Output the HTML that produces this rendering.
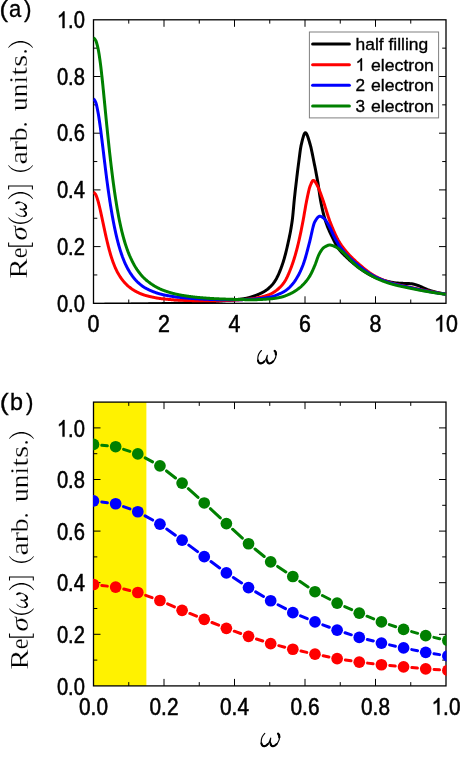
<!DOCTYPE html>
<html><head><meta charset="utf-8"><title>Optical conductivity</title>
<style>
html,body{margin:0;padding:0;background:#fff;}
body{width:460px;height:761px;overflow:hidden;font-family:"Liberation Sans",sans-serif;}
svg{display:block;will-change:transform;}
</style></head><body>
<svg width="460" height="761" viewBox="0 0 460 761">
<defs>
<clipPath id="ca"><rect x="92.85" y="19.150000000000002" width="353.8" height="284.8"/></clipPath>
<clipPath id="cb"><rect x="93.05" y="401.45000000000005" width="353.4" height="285.09999999999997"/></clipPath>
</defs>
<rect width="460" height="761" fill="#fff"/>
<path d="M164.00,303.3 v-7.0 M164.00,19.8 v7.0 M234.50,303.3 v-7.0 M234.50,19.8 v7.0 M305.00,303.3 v-7.0 M305.00,19.8 v7.0 M375.50,303.3 v-7.0 M375.50,19.8 v7.0 M128.75,303.3 v-3.8 M128.75,19.8 v3.8 M199.25,303.3 v-3.8 M199.25,19.8 v3.8 M269.75,303.3 v-3.8 M269.75,19.8 v3.8 M340.25,303.3 v-3.8 M340.25,19.8 v3.8 M410.75,303.3 v-3.8 M410.75,19.8 v3.8 M93.5,246.60 h7.0 M446.0,246.60 h-7.0 M93.5,189.90 h7.0 M446.0,189.90 h-7.0 M93.5,133.20 h7.0 M446.0,133.20 h-7.0 M93.5,76.50 h7.0 M446.0,76.50 h-7.0 M93.5,274.95 h3.8 M446.0,274.95 h-3.8 M93.5,218.25 h3.8 M446.0,218.25 h-3.8 M93.5,161.55 h3.8 M446.0,161.55 h-3.8 M93.5,104.85 h3.8 M446.0,104.85 h-3.8 M93.5,48.15 h3.8 M446.0,48.15 h-3.8" stroke="#000" stroke-width="1.0" fill="none"/>
<rect x="93.5" y="19.8" width="352.5" height="283.5" fill="none" stroke="#000" stroke-width="1.3"/>
<g clip-path="url(#ca)" fill="none" stroke-width="3" stroke-linejoin="round">
<path d="M93.50,304.43 L93.79,304.43 L94.09,304.43 L94.38,304.43 L94.68,304.43 L94.97,304.43 L95.26,304.43 L95.56,304.43 L95.85,304.42 L96.15,304.42 L96.44,304.42 L96.73,304.42 L97.03,304.42 L97.32,304.42 L97.62,304.42 L97.91,304.41 L98.20,304.41 L98.50,304.41 L98.79,304.41 L99.09,304.41 L99.38,304.41 L99.67,304.41 L99.97,304.40 L100.26,304.40 L100.56,304.40 L100.85,304.40 L101.14,304.40 L101.44,304.39 L101.73,304.39 L102.03,304.39 L102.32,304.39 L102.61,304.39 L102.91,304.39 L103.20,304.38 L103.50,304.38 L103.79,304.38 L104.08,304.38 L104.38,304.38 L104.67,304.37 L104.97,304.37 L105.26,304.37 L105.55,304.37 L105.85,304.37 L106.14,304.36 L106.44,304.36 L106.73,304.36 L107.02,304.36 L107.32,304.35 L107.61,304.35 L107.91,304.35 L108.20,304.35 L108.49,304.34 L108.79,304.34 L109.08,304.34 L109.38,304.34 L109.67,304.34 L109.96,304.33 L110.26,304.33 L110.55,304.33 L110.85,304.33 L111.14,304.32 L111.43,304.32 L111.73,304.32 L112.02,304.32 L112.32,304.31 L112.61,304.31 L112.90,304.31 L113.20,304.31 L113.49,304.30 L113.79,304.30 L114.08,304.30 L114.37,304.29 L114.67,304.29 L114.96,304.29 L115.26,304.29 L115.55,304.28 L115.84,304.28 L116.14,304.28 L116.43,304.28 L116.73,304.27 L117.02,304.27 L117.31,304.27 L117.61,304.26 L117.90,304.26 L118.20,304.26 L118.49,304.26 L118.78,304.25 L119.08,304.25 L119.37,304.25 L119.67,304.24 L119.96,304.24 L120.25,304.24 L120.55,304.24 L120.84,304.23 L121.14,304.23 L121.43,304.23 L121.72,304.22 L122.02,304.22 L122.31,304.22 L122.61,304.21 L122.90,304.21 L123.19,304.21 L123.49,304.21 L123.78,304.20 L124.08,304.20 L124.37,304.20 L124.66,304.19 L124.96,304.19 L125.25,304.19 L125.55,304.18 L125.84,304.18 L126.13,304.18 L126.43,304.18 L126.72,304.17 L127.02,304.17 L127.31,304.17 L127.60,304.16 L127.90,304.16 L128.19,304.16 L128.49,304.15 L128.78,304.15 L129.07,304.15 L129.37,304.14 L129.66,304.14 L129.96,304.14 L130.25,304.13 L130.54,304.13 L130.84,304.13 L131.13,304.12 L131.43,304.12 L131.72,304.12 L132.01,304.11 L132.31,304.11 L132.60,304.11 L132.90,304.10 L133.19,304.10 L133.48,304.10 L133.78,304.09 L134.07,304.09 L134.37,304.08 L134.66,304.08 L134.95,304.08 L135.25,304.07 L135.54,304.07 L135.84,304.07 L136.13,304.06 L136.42,304.06 L136.72,304.05 L137.01,304.05 L137.31,304.05 L137.60,304.04 L137.89,304.04 L138.19,304.03 L138.48,304.03 L138.78,304.02 L139.07,304.02 L139.36,304.02 L139.66,304.01 L139.95,304.01 L140.25,304.00 L140.54,304.00 L140.83,303.99 L141.13,303.99 L141.42,303.99 L141.72,303.98 L142.01,303.98 L142.30,303.97 L142.60,303.97 L142.89,303.96 L143.19,303.96 L143.48,303.95 L143.77,303.95 L144.07,303.94 L144.36,303.94 L144.66,303.93 L144.95,303.93 L145.24,303.93 L145.54,303.92 L145.83,303.92 L146.13,303.91 L146.42,303.91 L146.71,303.90 L147.01,303.90 L147.30,303.89 L147.60,303.89 L147.89,303.88 L148.18,303.88 L148.48,303.87 L148.77,303.87 L149.07,303.86 L149.36,303.86 L149.65,303.85 L149.95,303.85 L150.24,303.84 L150.54,303.84 L150.83,303.83 L151.12,303.83 L151.42,303.82 L151.71,303.82 L152.01,303.81 L152.30,303.80 L152.59,303.80 L152.89,303.79 L153.18,303.79 L153.47,303.78 L153.77,303.78 L154.06,303.77 L154.36,303.77 L154.65,303.76 L154.94,303.76 L155.24,303.75 L155.53,303.75 L155.83,303.74 L156.12,303.73 L156.41,303.73 L156.71,303.72 L157.00,303.72 L157.30,303.71 L157.59,303.71 L157.88,303.70 L158.18,303.70 L158.47,303.69 L158.77,303.68 L159.06,303.68 L159.35,303.67 L159.65,303.67 L159.94,303.66 L160.24,303.66 L160.53,303.65 L160.82,303.65 L161.12,303.64 L161.41,303.63 L161.71,303.63 L162.00,303.62 L162.29,303.62 L162.59,303.61 L162.88,303.61 L163.18,303.60 L163.47,303.59 L163.76,303.59 L164.06,303.58 L164.35,303.58 L164.65,303.57 L164.94,303.56 L165.23,303.56 L165.53,303.55 L165.82,303.55 L166.12,303.54 L166.41,303.54 L166.70,303.53 L167.00,303.52 L167.29,303.52 L167.59,303.51 L167.88,303.50 L168.17,303.50 L168.47,303.49 L168.76,303.49 L169.06,303.48 L169.35,303.47 L169.64,303.47 L169.94,303.46 L170.23,303.45 L170.53,303.45 L170.82,303.44 L171.11,303.43 L171.41,303.43 L171.70,303.42 L172.00,303.41 L172.29,303.41 L172.58,303.40 L172.88,303.39 L173.17,303.38 L173.47,303.38 L173.76,303.37 L174.05,303.36 L174.35,303.36 L174.64,303.35 L174.94,303.34 L175.23,303.33 L175.52,303.33 L175.82,303.32 L176.11,303.31 L176.41,303.30 L176.70,303.30 L176.99,303.29 L177.29,303.28 L177.58,303.27 L177.88,303.26 L178.17,303.26 L178.46,303.25 L178.76,303.24 L179.05,303.23 L179.35,303.22 L179.64,303.22 L179.93,303.21 L180.23,303.20 L180.52,303.19 L180.82,303.18 L181.11,303.17 L181.40,303.16 L181.70,303.16 L181.99,303.15 L182.29,303.14 L182.58,303.13 L182.87,303.12 L183.17,303.11 L183.46,303.10 L183.76,303.09 L184.05,303.08 L184.34,303.07 L184.64,303.06 L184.93,303.05 L185.23,303.04 L185.52,303.03 L185.81,303.02 L186.11,303.01 L186.40,303.00 L186.70,302.99 L186.99,302.98 L187.28,302.97 L187.58,302.96 L187.87,302.95 L188.17,302.94 L188.46,302.93 L188.75,302.92 L189.05,302.90 L189.34,302.89 L189.64,302.88 L189.93,302.87 L190.22,302.86 L190.52,302.85 L190.81,302.83 L191.11,302.82 L191.40,302.81 L191.69,302.80 L191.99,302.78 L192.28,302.77 L192.58,302.76 L192.87,302.75 L193.16,302.73 L193.46,302.72 L193.75,302.71 L194.05,302.70 L194.34,302.68 L194.63,302.67 L194.93,302.66 L195.22,302.64 L195.52,302.63 L195.81,302.62 L196.10,302.60 L196.40,302.59 L196.69,302.57 L196.99,302.56 L197.28,302.55 L197.57,302.53 L197.87,302.52 L198.16,302.50 L198.46,302.49 L198.75,302.47 L199.04,302.46 L199.34,302.45 L199.63,302.43 L199.93,302.42 L200.22,302.40 L200.51,302.39 L200.81,302.37 L201.10,302.35 L201.40,302.34 L201.69,302.32 L201.98,302.31 L202.28,302.29 L202.57,302.27 L202.87,302.26 L203.16,302.24 L203.45,302.22 L203.75,302.21 L204.04,302.19 L204.34,302.17 L204.63,302.15 L204.92,302.14 L205.22,302.12 L205.51,302.10 L205.81,302.08 L206.10,302.06 L206.39,302.05 L206.69,302.03 L206.98,302.01 L207.28,301.99 L207.57,301.97 L207.86,301.95 L208.16,301.93 L208.45,301.91 L208.75,301.89 L209.04,301.87 L209.33,301.85 L209.63,301.84 L209.92,301.82 L210.22,301.80 L210.51,301.77 L210.80,301.75 L211.10,301.73 L211.39,301.71 L211.69,301.69 L211.98,301.67 L212.27,301.65 L212.57,301.63 L212.86,301.61 L213.16,301.59 L213.45,301.57 L213.74,301.55 L214.04,301.53 L214.33,301.50 L214.63,301.48 L214.92,301.46 L215.21,301.44 L215.51,301.42 L215.80,301.40 L216.10,301.37 L216.39,301.35 L216.68,301.33 L216.98,301.31 L217.27,301.29 L217.57,301.26 L217.86,301.24 L218.15,301.22 L218.45,301.20 L218.74,301.17 L219.04,301.15 L219.33,301.13 L219.62,301.10 L219.92,301.08 L220.21,301.06 L220.51,301.03 L220.80,301.01 L221.09,300.99 L221.39,300.96 L221.68,300.94 L221.98,300.91 L222.27,300.89 L222.56,300.86 L222.86,300.84 L223.15,300.82 L223.45,300.79 L223.74,300.77 L224.03,300.74 L224.33,300.71 L224.62,300.69 L224.92,300.66 L225.21,300.64 L225.50,300.61 L225.80,300.59 L226.09,300.56 L226.39,300.53 L226.68,300.51 L226.97,300.48 L227.27,300.45 L227.56,300.43 L227.86,300.40 L228.15,300.37 L228.44,300.35 L228.74,300.32 L229.03,300.29 L229.33,300.26 L229.62,300.24 L229.91,300.21 L230.21,300.18 L230.50,300.15 L230.80,300.12 L231.09,300.10 L231.38,300.07 L231.68,300.04 L231.97,300.01 L232.27,299.98 L232.56,299.95 L232.85,299.92 L233.15,299.89 L233.44,299.86 L233.74,299.83 L234.03,299.80 L234.32,299.77 L234.62,299.74 L234.91,299.71 L235.21,299.68 L235.50,299.66 L235.79,299.63 L236.09,299.60 L236.38,299.57 L236.68,299.54 L236.97,299.51 L237.26,299.48 L237.56,299.45 L237.85,299.42 L238.15,299.39 L238.44,299.36 L238.73,299.33 L239.03,299.30 L239.32,299.27 L239.62,299.23 L239.91,299.20 L240.20,299.17 L240.50,299.14 L240.79,299.10 L241.09,299.07 L241.38,299.03 L241.67,299.00 L241.97,298.96 L242.26,298.92 L242.56,298.88 L242.85,298.84 L243.14,298.80 L243.44,298.76 L243.73,298.72 L244.03,298.68 L244.32,298.63 L244.61,298.58 L244.91,298.53 L245.20,298.48 L245.50,298.43 L245.79,298.37 L246.08,298.31 L246.38,298.25 L246.67,298.18 L246.97,298.12 L247.26,298.05 L247.55,297.98 L247.85,297.90 L248.14,297.83 L248.44,297.75 L248.73,297.67 L249.02,297.59 L249.32,297.51 L249.61,297.43 L249.91,297.34 L250.20,297.25 L250.49,297.16 L250.79,297.07 L251.08,296.98 L251.38,296.89 L251.67,296.80 L251.96,296.70 L252.26,296.61 L252.55,296.51 L252.85,296.41 L253.14,296.32 L253.43,296.22 L253.73,296.12 L254.02,296.03 L254.32,295.93 L254.61,295.83 L254.90,295.73 L255.20,295.62 L255.49,295.52 L255.79,295.41 L256.08,295.30 L256.37,295.19 L256.67,295.08 L256.96,294.97 L257.26,294.86 L257.55,294.74 L257.84,294.62 L258.14,294.50 L258.43,294.38 L258.73,294.25 L259.02,294.13 L259.31,294.00 L259.61,293.87 L259.90,293.74 L260.20,293.60 L260.49,293.46 L260.78,293.32 L261.08,293.18 L261.37,293.04 L261.67,292.89 L261.96,292.74 L262.25,292.59 L262.55,292.43 L262.84,292.27 L263.14,292.11 L263.43,291.95 L263.72,291.78 L264.02,291.61 L264.31,291.44 L264.61,291.26 L264.90,291.07 L265.19,290.89 L265.49,290.69 L265.78,290.50 L266.08,290.29 L266.37,290.09 L266.66,289.87 L266.96,289.66 L267.25,289.43 L267.55,289.21 L267.84,288.97 L268.13,288.73 L268.43,288.49 L268.72,288.24 L269.02,287.98 L269.31,287.72 L269.60,287.45 L269.90,287.17 L270.19,286.89 L270.48,286.60 L270.78,286.30 L271.07,285.99 L271.37,285.68 L271.66,285.36 L271.95,285.03 L272.25,284.70 L272.54,284.35 L272.84,284.00 L273.13,283.64 L273.42,283.26 L273.72,282.88 L274.01,282.48 L274.31,282.06 L274.60,281.63 L274.89,281.19 L275.19,280.72 L275.48,280.25 L275.78,279.75 L276.07,279.25 L276.36,278.72 L276.66,278.18 L276.95,277.62 L277.25,277.05 L277.54,276.46 L277.83,275.85 L278.13,275.23 L278.42,274.59 L278.72,273.94 L279.01,273.27 L279.30,272.58 L279.60,271.88 L279.89,271.16 L280.19,270.42 L280.48,269.67 L280.77,268.91 L281.07,268.13 L281.36,267.33 L281.66,266.52 L281.95,265.70 L282.24,264.86 L282.54,264.00 L282.83,263.11 L283.13,262.20 L283.42,261.26 L283.71,260.30 L284.01,259.32 L284.30,258.30 L284.60,257.26 L284.89,256.20 L285.18,255.11 L285.48,253.99 L285.77,252.85 L286.07,251.68 L286.36,250.49 L286.65,249.27 L286.95,248.02 L287.24,246.75 L287.54,245.46 L287.83,244.14 L288.12,242.79 L288.42,241.45 L288.71,240.09 L289.01,238.72 L289.30,237.33 L289.59,235.91 L289.89,234.46 L290.18,232.97 L290.48,231.42 L290.77,229.81 L291.06,228.13 L291.36,226.37 L291.65,224.51 L291.95,222.55 L292.24,220.46 L292.53,218.14 L292.83,215.41 L293.12,212.36 L293.42,209.10 L293.71,205.79 L294.00,202.58 L294.30,199.63 L294.59,196.85 L294.89,194.13 L295.18,191.46 L295.47,188.85 L295.77,186.31 L296.06,183.82 L296.36,181.37 L296.65,178.90 L296.94,176.43 L297.24,173.97 L297.53,171.54 L297.83,169.16 L298.12,166.83 L298.41,164.58 L298.71,162.37 L299.00,160.09 L299.30,157.78 L299.59,155.48 L299.88,153.23 L300.18,151.07 L300.47,149.06 L300.77,147.22 L301.06,145.63 L301.35,144.31 L301.65,143.09 L301.94,141.87 L302.24,140.67 L302.53,139.49 L302.82,138.36 L303.12,137.29 L303.41,136.30 L303.71,135.40 L304.00,134.60 L304.29,133.92 L304.59,133.39 L304.88,133.00 L305.18,132.79 L305.47,132.76 L305.76,132.91 L306.06,133.18 L306.35,133.56 L306.65,134.04 L306.94,134.61 L307.23,135.26 L307.53,135.99 L307.82,136.78 L308.12,137.63 L308.41,138.53 L308.70,139.46 L309.00,140.44 L309.29,141.44 L309.59,142.45 L309.88,143.48 L310.17,144.51 L310.47,145.59 L310.76,146.74 L311.06,147.97 L311.35,149.26 L311.64,150.60 L311.94,151.98 L312.23,153.41 L312.53,154.86 L312.82,156.32 L313.11,157.80 L313.41,159.28 L313.70,160.76 L314.00,162.23 L314.29,163.68 L314.58,165.12 L314.88,166.57 L315.17,168.05 L315.47,169.54 L315.76,171.06 L316.05,172.60 L316.35,174.16 L316.64,175.75 L316.94,177.36 L317.23,179.00 L317.52,180.67 L317.82,182.36 L318.11,184.08 L318.41,185.94 L318.70,187.94 L318.99,190.03 L319.29,192.14 L319.58,194.23 L319.88,196.24 L320.17,198.13 L320.46,199.85 L320.76,201.44 L321.05,202.98 L321.35,204.47 L321.64,205.91 L321.93,207.31 L322.23,208.66 L322.52,209.97 L322.82,211.23 L323.11,212.44 L323.40,213.62 L323.70,214.74 L323.99,215.83 L324.29,216.87 L324.58,217.89 L324.87,218.88 L325.17,219.85 L325.46,220.79 L325.76,221.70 L326.05,222.59 L326.34,223.45 L326.64,224.29 L326.93,225.10 L327.23,225.89 L327.52,226.65 L327.81,227.40 L328.11,228.12 L328.40,228.83 L328.70,229.52 L328.99,230.20 L329.28,230.87 L329.58,231.53 L329.87,232.17 L330.17,232.80 L330.46,233.43 L330.75,234.05 L331.05,234.66 L331.34,235.27 L331.64,235.87 L331.93,236.47 L332.22,237.07 L332.52,237.66 L332.81,238.25 L333.11,238.85 L333.40,239.45 L333.69,240.05 L333.99,240.64 L334.28,241.24 L334.58,241.82 L334.87,242.40 L335.16,242.98 L335.46,243.54 L335.75,244.10 L336.05,244.64 L336.34,245.17 L336.63,245.69 L336.93,246.19 L337.22,246.68 L337.52,247.15 L337.81,247.61 L338.10,248.04 L338.40,248.46 L338.69,248.86 L338.99,249.25 L339.28,249.63 L339.57,250.00 L339.87,250.36 L340.16,250.72 L340.46,251.06 L340.75,251.40 L341.04,251.73 L341.34,252.06 L341.63,252.38 L341.93,252.69 L342.22,253.00 L342.51,253.31 L342.81,253.61 L343.10,253.90 L343.40,254.20 L343.69,254.49 L343.98,254.77 L344.28,255.06 L344.57,255.34 L344.87,255.63 L345.16,255.91 L345.45,256.19 L345.75,256.46 L346.04,256.74 L346.34,257.02 L346.63,257.30 L346.92,257.58 L347.22,257.86 L347.51,258.14 L347.81,258.42 L348.10,258.70 L348.39,258.98 L348.69,259.26 L348.98,259.53 L349.28,259.80 L349.57,260.08 L349.86,260.35 L350.16,260.62 L350.45,260.88 L350.75,261.15 L351.04,261.42 L351.33,261.68 L351.63,261.94 L351.92,262.20 L352.22,262.46 L352.51,262.71 L352.80,262.96 L353.10,263.22 L353.39,263.47 L353.69,263.71 L353.98,263.96 L354.27,264.20 L354.57,264.45 L354.86,264.68 L355.16,264.92 L355.45,265.16 L355.74,265.39 L356.04,265.62 L356.33,265.85 L356.63,266.08 L356.92,266.30 L357.21,266.52 L357.51,266.74 L357.80,266.96 L358.10,267.17 L358.39,267.39 L358.68,267.60 L358.98,267.81 L359.27,268.03 L359.57,268.24 L359.86,268.45 L360.15,268.66 L360.45,268.87 L360.74,269.08 L361.04,269.28 L361.33,269.49 L361.62,269.69 L361.92,269.90 L362.21,270.10 L362.51,270.30 L362.80,270.50 L363.09,270.70 L363.39,270.90 L363.68,271.09 L363.98,271.29 L364.27,271.48 L364.56,271.67 L364.86,271.86 L365.15,272.05 L365.45,272.24 L365.74,272.42 L366.03,272.61 L366.33,272.79 L366.62,272.97 L366.92,273.15 L367.21,273.32 L367.50,273.50 L367.80,273.67 L368.09,273.84 L368.39,274.01 L368.68,274.18 L368.97,274.35 L369.27,274.51 L369.56,274.67 L369.86,274.83 L370.15,274.99 L370.44,275.15 L370.74,275.30 L371.03,275.45 L371.33,275.60 L371.62,275.75 L371.91,275.90 L372.21,276.04 L372.50,276.18 L372.80,276.32 L373.09,276.46 L373.38,276.59 L373.68,276.73 L373.97,276.86 L374.27,276.99 L374.56,277.11 L374.85,277.24 L375.15,277.36 L375.44,277.48 L375.74,277.60 L376.03,277.71 L376.32,277.83 L376.62,277.94 L376.91,278.05 L377.21,278.17 L377.50,278.28 L377.79,278.39 L378.09,278.50 L378.38,278.60 L378.68,278.71 L378.97,278.81 L379.26,278.92 L379.56,279.02 L379.85,279.12 L380.15,279.22 L380.44,279.32 L380.73,279.42 L381.03,279.52 L381.32,279.61 L381.62,279.71 L381.91,279.80 L382.20,279.89 L382.50,279.98 L382.79,280.07 L383.09,280.16 L383.38,280.25 L383.67,280.33 L383.97,280.42 L384.26,280.50 L384.56,280.59 L384.85,280.67 L385.14,280.75 L385.44,280.83 L385.73,280.90 L386.03,280.98 L386.32,281.05 L386.61,281.13 L386.91,281.20 L387.20,281.27 L387.49,281.34 L387.79,281.41 L388.08,281.48 L388.38,281.55 L388.67,281.61 L388.96,281.68 L389.26,281.74 L389.55,281.80 L389.85,281.86 L390.14,281.92 L390.43,281.98 L390.73,282.05 L391.02,282.11 L391.32,282.17 L391.61,282.23 L391.90,282.29 L392.20,282.35 L392.49,282.40 L392.79,282.46 L393.08,282.52 L393.37,282.57 L393.67,282.62 L393.96,282.67 L394.26,282.72 L394.55,282.76 L394.84,282.80 L395.14,282.84 L395.43,282.88 L395.73,282.92 L396.02,282.95 L396.31,282.97 L396.61,283.00 L396.90,283.02 L397.20,283.04 L397.49,283.06 L397.78,283.08 L398.08,283.10 L398.37,283.12 L398.67,283.14 L398.96,283.15 L399.25,283.17 L399.55,283.19 L399.84,283.20 L400.14,283.22 L400.43,283.24 L400.72,283.25 L401.02,283.27 L401.31,283.28 L401.61,283.29 L401.90,283.31 L402.19,283.32 L402.49,283.34 L402.78,283.35 L403.08,283.37 L403.37,283.38 L403.66,283.40 L403.96,283.41 L404.25,283.42 L404.55,283.44 L404.84,283.45 L405.13,283.46 L405.43,283.47 L405.72,283.48 L406.02,283.49 L406.31,283.50 L406.60,283.51 L406.90,283.52 L407.19,283.53 L407.49,283.54 L407.78,283.55 L408.07,283.56 L408.37,283.57 L408.66,283.58 L408.96,283.59 L409.25,283.61 L409.54,283.62 L409.84,283.63 L410.13,283.65 L410.43,283.66 L410.72,283.68 L411.01,283.70 L411.31,283.73 L411.60,283.76 L411.90,283.80 L412.19,283.85 L412.48,283.90 L412.78,283.96 L413.07,284.03 L413.37,284.09 L413.66,284.17 L413.95,284.24 L414.25,284.32 L414.54,284.41 L414.84,284.49 L415.13,284.58 L415.42,284.67 L415.72,284.76 L416.01,284.86 L416.31,284.95 L416.60,285.05 L416.89,285.14 L417.19,285.24 L417.48,285.34 L417.78,285.43 L418.07,285.53 L418.36,285.63 L418.66,285.74 L418.95,285.85 L419.25,285.97 L419.54,286.09 L419.83,286.21 L420.13,286.33 L420.42,286.46 L420.72,286.59 L421.01,286.72 L421.30,286.85 L421.60,286.98 L421.89,287.12 L422.19,287.25 L422.48,287.38 L422.77,287.52 L423.07,287.65 L423.36,287.78 L423.66,287.91 L423.95,288.04 L424.24,288.16 L424.54,288.29 L424.83,288.41 L425.13,288.53 L425.42,288.65 L425.71,288.78 L426.01,288.91 L426.30,289.04 L426.60,289.16 L426.89,289.29 L427.18,289.42 L427.48,289.54 L427.77,289.67 L428.07,289.79 L428.36,289.91 L428.65,290.02 L428.95,290.13 L429.24,290.24 L429.54,290.35 L429.83,290.44 L430.12,290.54 L430.42,290.63 L430.71,290.72 L431.01,290.81 L431.30,290.89 L431.59,290.98 L431.89,291.07 L432.18,291.15 L432.48,291.24 L432.77,291.32 L433.06,291.40 L433.36,291.49 L433.65,291.57 L433.95,291.65 L434.24,291.73 L434.53,291.80 L434.83,291.88 L435.12,291.96 L435.42,292.03 L435.71,292.11 L436.00,292.18 L436.30,292.26 L436.59,292.33 L436.89,292.40 L437.18,292.47 L437.47,292.54 L437.77,292.60 L438.06,292.67 L438.36,292.74 L438.65,292.80 L438.94,292.87 L439.24,292.93 L439.53,292.99 L439.83,293.05 L440.12,293.11 L440.41,293.17 L440.71,293.23 L441.00,293.29 L441.30,293.34 L441.59,293.40 L441.88,293.45 L442.18,293.50 L442.47,293.55 L442.77,293.60 L443.06,293.65 L443.35,293.70 L443.65,293.75 L443.94,293.79 L444.24,293.84 L444.53,293.88 L444.82,293.93 L445.12,293.97 L445.41,294.01 L445.71,294.05 L446.00,294.09" stroke="#000000"/>
<path d="M93.50,192.45 L93.79,192.52 L94.09,192.68 L94.38,192.92 L94.68,193.23 L94.97,193.59 L95.26,193.99 L95.56,194.42 L95.85,194.87 L96.15,195.45 L96.44,196.16 L96.73,196.96 L97.03,197.84 L97.32,198.77 L97.62,199.73 L97.91,200.69 L98.20,201.67 L98.50,202.74 L98.79,203.87 L99.09,205.05 L99.38,206.27 L99.67,207.51 L99.97,208.75 L100.26,210.00 L100.56,211.29 L100.85,212.61 L101.14,213.96 L101.44,215.33 L101.73,216.71 L102.03,218.09 L102.32,219.46 L102.61,220.83 L102.91,222.22 L103.20,223.62 L103.50,225.02 L103.79,226.41 L104.08,227.80 L104.38,229.18 L104.67,230.53 L104.97,231.89 L105.26,233.24 L105.55,234.57 L105.85,235.90 L106.14,237.21 L106.44,238.50 L106.73,239.77 L107.02,241.02 L107.32,242.25 L107.61,243.47 L107.91,244.67 L108.20,245.85 L108.49,247.01 L108.79,248.14 L109.08,249.25 L109.38,250.33 L109.67,251.40 L109.96,252.44 L110.26,253.47 L110.55,254.47 L110.85,255.45 L111.14,256.40 L111.43,257.34 L111.73,258.25 L112.02,259.14 L112.32,260.02 L112.61,260.87 L112.90,261.70 L113.20,262.52 L113.49,263.31 L113.79,264.08 L114.08,264.83 L114.37,265.57 L114.67,266.29 L114.96,266.98 L115.26,267.67 L115.55,268.33 L115.84,268.97 L116.14,269.60 L116.43,270.21 L116.73,270.81 L117.02,271.39 L117.31,271.96 L117.61,272.51 L117.90,273.05 L118.20,273.58 L118.49,274.09 L118.78,274.59 L119.08,275.08 L119.37,275.56 L119.67,276.03 L119.96,276.49 L120.25,276.94 L120.55,277.37 L120.84,277.80 L121.14,278.22 L121.43,278.63 L121.72,279.03 L122.02,279.43 L122.31,279.81 L122.61,280.19 L122.90,280.56 L123.19,280.92 L123.49,281.28 L123.78,281.63 L124.08,281.97 L124.37,282.31 L124.66,282.63 L124.96,282.96 L125.25,283.27 L125.55,283.58 L125.84,283.89 L126.13,284.18 L126.43,284.48 L126.72,284.76 L127.02,285.05 L127.31,285.32 L127.60,285.60 L127.90,285.87 L128.19,286.13 L128.49,286.38 L128.78,286.63 L129.07,286.86 L129.37,287.10 L129.66,287.33 L129.96,287.55 L130.25,287.78 L130.54,288.00 L130.84,288.22 L131.13,288.43 L131.43,288.64 L131.72,288.85 L132.01,289.06 L132.31,289.26 L132.60,289.46 L132.90,289.65 L133.19,289.84 L133.48,290.03 L133.78,290.22 L134.07,290.40 L134.37,290.58 L134.66,290.75 L134.95,290.92 L135.25,291.09 L135.54,291.26 L135.84,291.42 L136.13,291.58 L136.42,291.74 L136.72,291.89 L137.01,292.04 L137.31,292.18 L137.60,292.33 L137.89,292.47 L138.19,292.61 L138.48,292.74 L138.78,292.88 L139.07,293.01 L139.36,293.15 L139.66,293.28 L139.95,293.40 L140.25,293.53 L140.54,293.65 L140.83,293.78 L141.13,293.90 L141.42,294.01 L141.72,294.13 L142.01,294.24 L142.30,294.36 L142.60,294.46 L142.89,294.57 L143.19,294.68 L143.48,294.78 L143.77,294.88 L144.07,294.98 L144.36,295.07 L144.66,295.17 L144.95,295.26 L145.24,295.34 L145.54,295.43 L145.83,295.51 L146.13,295.60 L146.42,295.67 L146.71,295.75 L147.01,295.83 L147.30,295.90 L147.60,295.98 L147.89,296.05 L148.18,296.13 L148.48,296.20 L148.77,296.27 L149.07,296.35 L149.36,296.42 L149.65,296.49 L149.95,296.56 L150.24,296.63 L150.54,296.70 L150.83,296.76 L151.12,296.83 L151.42,296.90 L151.71,296.96 L152.01,297.03 L152.30,297.09 L152.59,297.16 L152.89,297.22 L153.18,297.28 L153.47,297.34 L153.77,297.40 L154.06,297.46 L154.36,297.52 L154.65,297.58 L154.94,297.63 L155.24,297.69 L155.53,297.74 L155.83,297.80 L156.12,297.85 L156.41,297.91 L156.71,297.96 L157.00,298.01 L157.30,298.06 L157.59,298.11 L157.88,298.16 L158.18,298.20 L158.47,298.25 L158.77,298.30 L159.06,298.34 L159.35,298.39 L159.65,298.43 L159.94,298.47 L160.24,298.52 L160.53,298.56 L160.82,298.60 L161.12,298.64 L161.41,298.67 L161.71,298.71 L162.00,298.75 L162.29,298.78 L162.59,298.82 L162.88,298.85 L163.18,298.89 L163.47,298.92 L163.76,298.95 L164.06,298.98 L164.35,299.01 L164.65,299.04 L164.94,299.07 L165.23,299.10 L165.53,299.13 L165.82,299.16 L166.12,299.19 L166.41,299.22 L166.70,299.25 L167.00,299.27 L167.29,299.30 L167.59,299.33 L167.88,299.36 L168.17,299.39 L168.47,299.41 L168.76,299.44 L169.06,299.47 L169.35,299.49 L169.64,299.52 L169.94,299.55 L170.23,299.57 L170.53,299.60 L170.82,299.62 L171.11,299.65 L171.41,299.67 L171.70,299.70 L172.00,299.72 L172.29,299.74 L172.58,299.77 L172.88,299.79 L173.17,299.81 L173.47,299.83 L173.76,299.86 L174.05,299.88 L174.35,299.90 L174.64,299.92 L174.94,299.94 L175.23,299.96 L175.52,299.98 L175.82,300.00 L176.11,300.02 L176.41,300.04 L176.70,300.05 L176.99,300.07 L177.29,300.09 L177.58,300.11 L177.88,300.12 L178.17,300.14 L178.46,300.15 L178.76,300.17 L179.05,300.18 L179.35,300.20 L179.64,300.21 L179.93,300.22 L180.23,300.24 L180.52,300.25 L180.82,300.26 L181.11,300.27 L181.40,300.29 L181.70,300.30 L181.99,300.31 L182.29,300.32 L182.58,300.33 L182.87,300.34 L183.17,300.35 L183.46,300.36 L183.76,300.37 L184.05,300.38 L184.34,300.39 L184.64,300.40 L184.93,300.41 L185.23,300.42 L185.52,300.43 L185.81,300.44 L186.11,300.45 L186.40,300.46 L186.70,300.47 L186.99,300.48 L187.28,300.49 L187.58,300.50 L187.87,300.51 L188.17,300.52 L188.46,300.53 L188.75,300.54 L189.05,300.55 L189.34,300.56 L189.64,300.57 L189.93,300.57 L190.22,300.58 L190.52,300.59 L190.81,300.60 L191.11,300.61 L191.40,300.62 L191.69,300.62 L191.99,300.63 L192.28,300.64 L192.58,300.65 L192.87,300.65 L193.16,300.66 L193.46,300.67 L193.75,300.67 L194.05,300.68 L194.34,300.69 L194.63,300.69 L194.93,300.70 L195.22,300.70 L195.52,300.71 L195.81,300.71 L196.10,300.72 L196.40,300.72 L196.69,300.73 L196.99,300.73 L197.28,300.74 L197.57,300.74 L197.87,300.74 L198.16,300.75 L198.46,300.75 L198.75,300.75 L199.04,300.75 L199.34,300.76 L199.63,300.76 L199.93,300.76 L200.22,300.76 L200.51,300.76 L200.81,300.77 L201.10,300.77 L201.40,300.77 L201.69,300.77 L201.98,300.77 L202.28,300.77 L202.57,300.77 L202.87,300.77 L203.16,300.77 L203.45,300.78 L203.75,300.78 L204.04,300.78 L204.34,300.78 L204.63,300.78 L204.92,300.78 L205.22,300.78 L205.51,300.78 L205.81,300.78 L206.10,300.78 L206.39,300.78 L206.69,300.78 L206.98,300.78 L207.28,300.78 L207.57,300.78 L207.86,300.77 L208.16,300.77 L208.45,300.77 L208.75,300.77 L209.04,300.77 L209.33,300.77 L209.63,300.77 L209.92,300.77 L210.22,300.77 L210.51,300.76 L210.80,300.76 L211.10,300.76 L211.39,300.76 L211.69,300.76 L211.98,300.75 L212.27,300.75 L212.57,300.75 L212.86,300.75 L213.16,300.74 L213.45,300.74 L213.74,300.74 L214.04,300.74 L214.33,300.73 L214.63,300.73 L214.92,300.73 L215.21,300.72 L215.51,300.72 L215.80,300.72 L216.10,300.71 L216.39,300.71 L216.68,300.71 L216.98,300.70 L217.27,300.70 L217.57,300.69 L217.86,300.69 L218.15,300.68 L218.45,300.68 L218.74,300.67 L219.04,300.67 L219.33,300.66 L219.62,300.66 L219.92,300.65 L220.21,300.64 L220.51,300.64 L220.80,300.63 L221.09,300.62 L221.39,300.61 L221.68,300.61 L221.98,300.60 L222.27,300.59 L222.56,300.58 L222.86,300.57 L223.15,300.57 L223.45,300.56 L223.74,300.55 L224.03,300.54 L224.33,300.53 L224.62,300.52 L224.92,300.51 L225.21,300.50 L225.50,300.49 L225.80,300.48 L226.09,300.47 L226.39,300.46 L226.68,300.45 L226.97,300.44 L227.27,300.43 L227.56,300.42 L227.86,300.41 L228.15,300.39 L228.44,300.38 L228.74,300.37 L229.03,300.36 L229.33,300.35 L229.62,300.34 L229.91,300.33 L230.21,300.31 L230.50,300.30 L230.80,300.29 L231.09,300.28 L231.38,300.26 L231.68,300.25 L231.97,300.24 L232.27,300.23 L232.56,300.21 L232.85,300.20 L233.15,300.19 L233.44,300.18 L233.74,300.16 L234.03,300.15 L234.32,300.14 L234.62,300.13 L234.91,300.11 L235.21,300.10 L235.50,300.08 L235.79,300.07 L236.09,300.05 L236.38,300.04 L236.68,300.02 L236.97,300.01 L237.26,299.99 L237.56,299.97 L237.85,299.95 L238.15,299.93 L238.44,299.91 L238.73,299.90 L239.03,299.88 L239.32,299.86 L239.62,299.84 L239.91,299.82 L240.20,299.80 L240.50,299.77 L240.79,299.75 L241.09,299.73 L241.38,299.71 L241.67,299.69 L241.97,299.67 L242.26,299.65 L242.56,299.62 L242.85,299.60 L243.14,299.58 L243.44,299.56 L243.73,299.54 L244.03,299.51 L244.32,299.49 L244.61,299.47 L244.91,299.44 L245.20,299.42 L245.50,299.39 L245.79,299.37 L246.08,299.34 L246.38,299.32 L246.67,299.29 L246.97,299.26 L247.26,299.24 L247.55,299.21 L247.85,299.18 L248.14,299.15 L248.44,299.12 L248.73,299.09 L249.02,299.06 L249.32,299.03 L249.61,299.00 L249.91,298.97 L250.20,298.94 L250.49,298.91 L250.79,298.87 L251.08,298.84 L251.38,298.81 L251.67,298.77 L251.96,298.74 L252.26,298.70 L252.55,298.66 L252.85,298.62 L253.14,298.58 L253.43,298.54 L253.73,298.50 L254.02,298.46 L254.32,298.41 L254.61,298.36 L254.90,298.31 L255.20,298.26 L255.49,298.21 L255.79,298.16 L256.08,298.11 L256.37,298.05 L256.67,298.00 L256.96,297.94 L257.26,297.89 L257.55,297.83 L257.84,297.77 L258.14,297.71 L258.43,297.65 L258.73,297.59 L259.02,297.53 L259.31,297.47 L259.61,297.40 L259.90,297.34 L260.20,297.28 L260.49,297.21 L260.78,297.15 L261.08,297.08 L261.37,297.01 L261.67,296.94 L261.96,296.87 L262.25,296.80 L262.55,296.72 L262.84,296.65 L263.14,296.57 L263.43,296.49 L263.72,296.41 L264.02,296.33 L264.31,296.24 L264.61,296.16 L264.90,296.07 L265.19,295.98 L265.49,295.89 L265.78,295.80 L266.08,295.71 L266.37,295.61 L266.66,295.51 L266.96,295.41 L267.25,295.31 L267.55,295.21 L267.84,295.11 L268.13,295.00 L268.43,294.89 L268.72,294.78 L269.02,294.66 L269.31,294.55 L269.60,294.43 L269.90,294.31 L270.19,294.18 L270.48,294.05 L270.78,293.92 L271.07,293.77 L271.37,293.63 L271.66,293.47 L271.95,293.32 L272.25,293.16 L272.54,292.99 L272.84,292.82 L273.13,292.64 L273.42,292.46 L273.72,292.27 L274.01,292.08 L274.31,291.89 L274.60,291.69 L274.89,291.48 L275.19,291.28 L275.48,291.07 L275.78,290.85 L276.07,290.63 L276.36,290.41 L276.66,290.19 L276.95,289.96 L277.25,289.73 L277.54,289.50 L277.83,289.26 L278.13,289.01 L278.42,288.76 L278.72,288.50 L279.01,288.24 L279.30,287.97 L279.60,287.69 L279.89,287.41 L280.19,287.12 L280.48,286.82 L280.77,286.51 L281.07,286.20 L281.36,285.87 L281.66,285.54 L281.95,285.20 L282.24,284.85 L282.54,284.49 L282.83,284.12 L283.13,283.73 L283.42,283.34 L283.71,282.94 L284.01,282.52 L284.30,282.09 L284.60,281.64 L284.89,281.17 L285.18,280.69 L285.48,280.19 L285.77,279.68 L286.07,279.15 L286.36,278.60 L286.65,278.04 L286.95,277.46 L287.24,276.86 L287.54,276.25 L287.83,275.62 L288.12,274.98 L288.42,274.32 L288.71,273.65 L289.01,272.96 L289.30,272.26 L289.59,271.54 L289.89,270.80 L290.18,270.06 L290.48,269.30 L290.77,268.53 L291.06,267.75 L291.36,266.96 L291.65,266.15 L291.95,265.34 L292.24,264.52 L292.53,263.68 L292.83,262.82 L293.12,261.94 L293.42,261.05 L293.71,260.14 L294.00,259.21 L294.30,258.27 L294.59,257.30 L294.89,256.32 L295.18,255.32 L295.47,254.30 L295.77,253.26 L296.06,252.20 L296.36,251.12 L296.65,250.02 L296.94,248.91 L297.24,247.77 L297.53,246.61 L297.83,245.43 L298.12,244.23 L298.41,243.01 L298.71,241.77 L299.00,240.50 L299.30,239.20 L299.59,237.88 L299.88,236.54 L300.18,235.17 L300.47,233.78 L300.77,232.36 L301.06,230.93 L301.35,229.48 L301.65,228.01 L301.94,226.52 L302.24,225.02 L302.53,223.50 L302.82,221.97 L303.12,220.41 L303.41,218.81 L303.71,217.18 L304.00,215.50 L304.29,213.81 L304.59,212.10 L304.88,210.39 L305.18,208.68 L305.47,206.99 L305.76,205.34 L306.06,203.72 L306.35,202.16 L306.65,200.67 L306.94,199.25 L307.23,197.83 L307.53,196.41 L307.82,195.01 L308.12,193.65 L308.41,192.32 L308.70,191.04 L309.00,189.83 L309.29,188.70 L309.59,187.67 L309.88,186.74 L310.17,185.92 L310.47,185.22 L310.76,184.51 L311.06,183.80 L311.35,183.12 L311.64,182.47 L311.94,181.88 L312.23,181.36 L312.53,180.94 L312.82,180.62 L313.11,180.43 L313.41,180.39 L313.70,180.48 L314.00,180.65 L314.29,180.88 L314.58,181.16 L314.88,181.50 L315.17,181.89 L315.47,182.32 L315.76,182.79 L316.05,183.28 L316.35,183.80 L316.64,184.34 L316.94,184.89 L317.23,185.44 L317.52,186.01 L317.82,186.60 L318.11,187.23 L318.41,187.88 L318.70,188.55 L318.99,189.25 L319.29,189.97 L319.58,190.71 L319.88,191.47 L320.17,192.24 L320.46,193.03 L320.76,193.83 L321.05,194.64 L321.35,195.46 L321.64,196.29 L321.93,197.12 L322.23,197.96 L322.52,198.80 L322.82,199.64 L323.11,200.49 L323.40,201.35 L323.70,202.24 L323.99,203.14 L324.29,204.06 L324.58,204.99 L324.87,205.92 L325.17,206.87 L325.46,207.82 L325.76,208.77 L326.05,209.73 L326.34,210.68 L326.64,211.62 L326.93,212.56 L327.23,213.50 L327.52,214.42 L327.81,215.33 L328.11,216.23 L328.40,217.11 L328.70,217.98 L328.99,218.82 L329.28,219.65 L329.58,220.46 L329.87,221.25 L330.17,222.01 L330.46,222.77 L330.75,223.52 L331.05,224.27 L331.34,225.01 L331.64,225.75 L331.93,226.48 L332.22,227.20 L332.52,227.92 L332.81,228.63 L333.11,229.33 L333.40,230.02 L333.69,230.71 L333.99,231.39 L334.28,232.06 L334.58,232.72 L334.87,233.37 L335.16,234.01 L335.46,234.65 L335.75,235.27 L336.05,235.88 L336.34,236.49 L336.63,237.08 L336.93,237.66 L337.22,238.24 L337.52,238.80 L337.81,239.35 L338.10,239.89 L338.40,240.42 L338.69,240.93 L338.99,241.44 L339.28,241.93 L339.57,242.42 L339.87,242.89 L340.16,243.35 L340.46,243.79 L340.75,244.24 L341.04,244.67 L341.34,245.10 L341.63,245.53 L341.93,245.94 L342.22,246.36 L342.51,246.76 L342.81,247.17 L343.10,247.56 L343.40,247.95 L343.69,248.34 L343.98,248.72 L344.28,249.10 L344.57,249.47 L344.87,249.84 L345.16,250.21 L345.45,250.57 L345.75,250.92 L346.04,251.27 L346.34,251.62 L346.63,251.97 L346.92,252.31 L347.22,252.65 L347.51,252.98 L347.81,253.31 L348.10,253.64 L348.39,253.96 L348.69,254.28 L348.98,254.60 L349.28,254.91 L349.57,255.23 L349.86,255.54 L350.16,255.84 L350.45,256.15 L350.75,256.45 L351.04,256.75 L351.33,257.04 L351.63,257.34 L351.92,257.63 L352.22,257.92 L352.51,258.21 L352.80,258.49 L353.10,258.78 L353.39,259.06 L353.69,259.34 L353.98,259.62 L354.27,259.89 L354.57,260.17 L354.86,260.44 L355.16,260.71 L355.45,260.98 L355.74,261.25 L356.04,261.52 L356.33,261.79 L356.63,262.05 L356.92,262.32 L357.21,262.58 L357.51,262.84 L357.80,263.10 L358.10,263.36 L358.39,263.62 L358.68,263.87 L358.98,264.13 L359.27,264.39 L359.57,264.64 L359.86,264.90 L360.15,265.15 L360.45,265.40 L360.74,265.65 L361.04,265.90 L361.33,266.16 L361.62,266.41 L361.92,266.66 L362.21,266.90 L362.51,267.15 L362.80,267.40 L363.09,267.65 L363.39,267.89 L363.68,268.13 L363.98,268.38 L364.27,268.62 L364.56,268.86 L364.86,269.10 L365.15,269.33 L365.45,269.57 L365.74,269.80 L366.03,270.04 L366.33,270.27 L366.62,270.49 L366.92,270.72 L367.21,270.95 L367.50,271.17 L367.80,271.39 L368.09,271.61 L368.39,271.83 L368.68,272.04 L368.97,272.26 L369.27,272.47 L369.56,272.67 L369.86,272.88 L370.15,273.09 L370.44,273.29 L370.74,273.49 L371.03,273.68 L371.33,273.88 L371.62,274.07 L371.91,274.26 L372.21,274.45 L372.50,274.63 L372.80,274.81 L373.09,274.99 L373.38,275.17 L373.68,275.35 L373.97,275.52 L374.27,275.69 L374.56,275.85 L374.85,276.02 L375.15,276.18 L375.44,276.34 L375.74,276.49 L376.03,276.65 L376.32,276.80 L376.62,276.95 L376.91,277.10 L377.21,277.25 L377.50,277.40 L377.79,277.54 L378.09,277.69 L378.38,277.83 L378.68,277.98 L378.97,278.12 L379.26,278.26 L379.56,278.39 L379.85,278.53 L380.15,278.67 L380.44,278.80 L380.73,278.93 L381.03,279.07 L381.32,279.20 L381.62,279.33 L381.91,279.45 L382.20,279.58 L382.50,279.71 L382.79,279.83 L383.09,279.95 L383.38,280.08 L383.67,280.20 L383.97,280.32 L384.26,280.43 L384.56,280.55 L384.85,280.67 L385.14,280.78 L385.44,280.90 L385.73,281.01 L386.03,281.12 L386.32,281.23 L386.61,281.34 L386.91,281.45 L387.20,281.55 L387.49,281.66 L387.79,281.76 L388.08,281.86 L388.38,281.97 L388.67,282.07 L388.96,282.17 L389.26,282.26 L389.55,282.36 L389.85,282.46 L390.14,282.55 L390.43,282.65 L390.73,282.74 L391.02,282.83 L391.32,282.92 L391.61,283.01 L391.90,283.10 L392.20,283.19 L392.49,283.27 L392.79,283.36 L393.08,283.44 L393.37,283.53 L393.67,283.61 L393.96,283.69 L394.26,283.77 L394.55,283.85 L394.84,283.92 L395.14,284.00 L395.43,284.08 L395.73,284.15 L396.02,284.22 L396.31,284.30 L396.61,284.37 L396.90,284.44 L397.20,284.51 L397.49,284.58 L397.78,284.65 L398.08,284.72 L398.37,284.79 L398.67,284.85 L398.96,284.92 L399.25,284.99 L399.55,285.05 L399.84,285.12 L400.14,285.18 L400.43,285.25 L400.72,285.31 L401.02,285.37 L401.31,285.44 L401.61,285.50 L401.90,285.56 L402.19,285.62 L402.49,285.68 L402.78,285.75 L403.08,285.81 L403.37,285.87 L403.66,285.93 L403.96,285.99 L404.25,286.05 L404.55,286.11 L404.84,286.17 L405.13,286.24 L405.43,286.30 L405.72,286.36 L406.02,286.42 L406.31,286.48 L406.60,286.54 L406.90,286.60 L407.19,286.66 L407.49,286.72 L407.78,286.79 L408.07,286.85 L408.37,286.91 L408.66,286.97 L408.96,287.04 L409.25,287.10 L409.54,287.16 L409.84,287.22 L410.13,287.29 L410.43,287.35 L410.72,287.42 L411.01,287.48 L411.31,287.55 L411.60,287.61 L411.90,287.68 L412.19,287.74 L412.48,287.81 L412.78,287.87 L413.07,287.93 L413.37,288.00 L413.66,288.06 L413.95,288.13 L414.25,288.19 L414.54,288.25 L414.84,288.32 L415.13,288.38 L415.42,288.45 L415.72,288.51 L416.01,288.57 L416.31,288.64 L416.60,288.70 L416.89,288.76 L417.19,288.83 L417.48,288.89 L417.78,288.95 L418.07,289.01 L418.36,289.08 L418.66,289.14 L418.95,289.20 L419.25,289.26 L419.54,289.33 L419.83,289.39 L420.13,289.45 L420.42,289.51 L420.72,289.57 L421.01,289.63 L421.30,289.69 L421.60,289.75 L421.89,289.82 L422.19,289.88 L422.48,289.94 L422.77,290.00 L423.07,290.06 L423.36,290.12 L423.66,290.18 L423.95,290.24 L424.24,290.30 L424.54,290.35 L424.83,290.41 L425.13,290.47 L425.42,290.53 L425.71,290.59 L426.01,290.65 L426.30,290.71 L426.60,290.76 L426.89,290.82 L427.18,290.88 L427.48,290.94 L427.77,290.99 L428.07,291.05 L428.36,291.11 L428.65,291.16 L428.95,291.22 L429.24,291.28 L429.54,291.33 L429.83,291.39 L430.12,291.44 L430.42,291.50 L430.71,291.55 L431.01,291.61 L431.30,291.66 L431.59,291.72 L431.89,291.77 L432.18,291.83 L432.48,291.88 L432.77,291.94 L433.06,291.99 L433.36,292.05 L433.65,292.10 L433.95,292.15 L434.24,292.21 L434.53,292.26 L434.83,292.31 L435.12,292.37 L435.42,292.42 L435.71,292.47 L436.00,292.53 L436.30,292.58 L436.59,292.63 L436.89,292.68 L437.18,292.74 L437.47,292.79 L437.77,292.84 L438.06,292.89 L438.36,292.94 L438.65,292.99 L438.94,293.04 L439.24,293.10 L439.53,293.15 L439.83,293.20 L440.12,293.25 L440.41,293.30 L440.71,293.35 L441.00,293.40 L441.30,293.45 L441.59,293.50 L441.88,293.55 L442.18,293.60 L442.47,293.65 L442.77,293.70 L443.06,293.75 L443.35,293.79 L443.65,293.84 L443.94,293.89 L444.24,293.94 L444.53,293.99 L444.82,294.04 L445.12,294.08 L445.41,294.13 L445.71,294.18 L446.00,294.23" stroke="#ff0000"/>
<path d="M93.50,99.17 L93.79,99.24 L94.09,99.45 L94.38,99.80 L94.68,100.25 L94.97,100.78 L95.26,101.37 L95.56,101.99 L95.85,102.67 L96.15,103.55 L96.44,104.63 L96.73,105.87 L97.03,107.24 L97.32,108.69 L97.62,110.18 L97.91,111.68 L98.20,113.25 L98.50,114.95 L98.79,116.78 L99.09,118.71 L99.38,120.71 L99.67,122.75 L99.97,124.82 L100.26,126.90 L100.56,129.06 L100.85,131.30 L101.14,133.60 L101.44,135.95 L101.73,138.32 L102.03,140.71 L102.32,143.09 L102.61,145.47 L102.91,147.89 L103.20,150.34 L103.50,152.80 L103.79,155.25 L104.08,157.70 L104.38,160.13 L104.67,162.53 L104.97,164.92 L105.26,167.31 L105.55,169.69 L105.85,172.05 L106.14,174.38 L106.44,176.68 L106.73,178.94 L107.02,181.16 L107.32,183.36 L107.61,185.53 L107.91,187.67 L108.20,189.78 L108.49,191.86 L108.79,193.90 L109.08,195.91 L109.38,197.88 L109.67,199.83 L109.96,201.74 L110.26,203.62 L110.55,205.47 L110.85,207.29 L111.14,209.07 L111.43,210.83 L111.73,212.55 L112.02,214.24 L112.32,215.91 L112.61,217.54 L112.90,219.14 L113.20,220.71 L113.49,222.25 L113.79,223.76 L114.08,225.25 L114.37,226.70 L114.67,228.13 L114.96,229.53 L115.26,230.90 L115.55,232.24 L115.84,233.56 L116.14,234.85 L116.43,236.11 L116.73,237.35 L117.02,238.56 L117.31,239.75 L117.61,240.91 L117.90,242.05 L118.20,243.16 L118.49,244.25 L118.78,245.32 L119.08,246.36 L119.37,247.38 L119.67,248.38 L119.96,249.35 L120.25,250.31 L120.55,251.24 L120.84,252.15 L121.14,253.05 L121.43,253.92 L121.72,254.77 L122.02,255.61 L122.31,256.43 L122.61,257.22 L122.90,258.01 L123.19,258.77 L123.49,259.52 L123.78,260.25 L124.08,260.97 L124.37,261.67 L124.66,262.36 L124.96,263.03 L125.25,263.69 L125.55,264.33 L125.84,264.97 L126.13,265.58 L126.43,266.19 L126.72,266.78 L127.02,267.36 L127.31,267.94 L127.60,268.50 L127.90,269.05 L128.19,269.59 L128.49,270.11 L128.78,270.61 L129.07,271.09 L129.37,271.57 L129.66,272.04 L129.96,272.50 L130.25,272.96 L130.54,273.41 L130.84,273.85 L131.13,274.28 L131.43,274.71 L131.72,275.13 L132.01,275.54 L132.31,275.95 L132.60,276.35 L132.90,276.74 L133.19,277.12 L133.48,277.50 L133.78,277.87 L134.07,278.23 L134.37,278.59 L134.66,278.94 L134.95,279.28 L135.25,279.62 L135.54,279.95 L135.84,280.27 L136.13,280.58 L136.42,280.89 L136.72,281.19 L137.01,281.49 L137.31,281.78 L137.60,282.06 L137.89,282.34 L138.19,282.61 L138.48,282.88 L138.78,283.15 L139.07,283.41 L139.36,283.67 L139.66,283.92 L139.95,284.17 L140.25,284.42 L140.54,284.66 L140.83,284.90 L141.13,285.13 L141.42,285.36 L141.72,285.59 L142.01,285.81 L142.30,286.03 L142.60,286.24 L142.89,286.44 L143.19,286.65 L143.48,286.85 L143.77,287.04 L144.07,287.23 L144.36,287.41 L144.66,287.60 L144.95,287.77 L145.24,287.94 L145.54,288.11 L145.83,288.27 L146.13,288.43 L146.42,288.58 L146.71,288.73 L147.01,288.88 L147.30,289.03 L147.60,289.18 L147.89,289.32 L148.18,289.46 L148.48,289.61 L148.77,289.75 L149.07,289.89 L149.36,290.02 L149.65,290.16 L149.95,290.29 L150.24,290.42 L150.54,290.55 L150.83,290.68 L151.12,290.81 L151.42,290.94 L151.71,291.06 L152.01,291.19 L152.30,291.31 L152.59,291.43 L152.89,291.55 L153.18,291.66 L153.47,291.78 L153.77,291.89 L154.06,292.00 L154.36,292.11 L154.65,292.22 L154.94,292.33 L155.24,292.44 L155.53,292.54 L155.83,292.64 L156.12,292.75 L156.41,292.85 L156.71,292.94 L157.00,293.04 L157.30,293.14 L157.59,293.23 L157.88,293.32 L158.18,293.41 L158.47,293.50 L158.77,293.59 L159.06,293.68 L159.35,293.76 L159.65,293.84 L159.94,293.93 L160.24,294.01 L160.53,294.09 L160.82,294.16 L161.12,294.24 L161.41,294.31 L161.71,294.39 L162.00,294.46 L162.29,294.53 L162.59,294.60 L162.88,294.66 L163.18,294.73 L163.47,294.79 L163.76,294.86 L164.06,294.92 L164.35,294.98 L164.65,295.04 L164.94,295.10 L165.23,295.16 L165.53,295.21 L165.82,295.27 L166.12,295.33 L166.41,295.39 L166.70,295.44 L167.00,295.50 L167.29,295.55 L167.59,295.61 L167.88,295.66 L168.17,295.72 L168.47,295.77 L168.76,295.82 L169.06,295.87 L169.35,295.93 L169.64,295.98 L169.94,296.03 L170.23,296.08 L170.53,296.13 L170.82,296.17 L171.11,296.22 L171.41,296.27 L171.70,296.32 L172.00,296.36 L172.29,296.41 L172.58,296.46 L172.88,296.50 L173.17,296.54 L173.47,296.59 L173.76,296.63 L174.05,296.67 L174.35,296.72 L174.64,296.76 L174.94,296.80 L175.23,296.84 L175.52,296.88 L175.82,296.92 L176.11,296.96 L176.41,296.99 L176.70,297.03 L176.99,297.07 L177.29,297.11 L177.58,297.14 L177.88,297.18 L178.17,297.21 L178.46,297.25 L178.76,297.28 L179.05,297.31 L179.35,297.35 L179.64,297.38 L179.93,297.41 L180.23,297.44 L180.52,297.47 L180.82,297.50 L181.11,297.53 L181.40,297.56 L181.70,297.59 L181.99,297.62 L182.29,297.64 L182.58,297.67 L182.87,297.70 L183.17,297.73 L183.46,297.75 L183.76,297.78 L184.05,297.81 L184.34,297.83 L184.64,297.86 L184.93,297.89 L185.23,297.91 L185.52,297.94 L185.81,297.96 L186.11,297.99 L186.40,298.01 L186.70,298.04 L186.99,298.06 L187.28,298.09 L187.58,298.11 L187.87,298.14 L188.17,298.16 L188.46,298.19 L188.75,298.21 L189.05,298.23 L189.34,298.26 L189.64,298.28 L189.93,298.30 L190.22,298.33 L190.52,298.35 L190.81,298.37 L191.11,298.39 L191.40,298.41 L191.69,298.44 L191.99,298.46 L192.28,298.48 L192.58,298.50 L192.87,298.52 L193.16,298.54 L193.46,298.56 L193.75,298.58 L194.05,298.60 L194.34,298.62 L194.63,298.64 L194.93,298.66 L195.22,298.68 L195.52,298.70 L195.81,298.71 L196.10,298.73 L196.40,298.75 L196.69,298.77 L196.99,298.79 L197.28,298.80 L197.57,298.82 L197.87,298.84 L198.16,298.85 L198.46,298.87 L198.75,298.88 L199.04,298.90 L199.34,298.92 L199.63,298.93 L199.93,298.95 L200.22,298.96 L200.51,298.98 L200.81,298.99 L201.10,299.01 L201.40,299.02 L201.69,299.04 L201.98,299.05 L202.28,299.07 L202.57,299.08 L202.87,299.10 L203.16,299.11 L203.45,299.13 L203.75,299.14 L204.04,299.15 L204.34,299.17 L204.63,299.18 L204.92,299.20 L205.22,299.21 L205.51,299.23 L205.81,299.24 L206.10,299.25 L206.39,299.27 L206.69,299.28 L206.98,299.30 L207.28,299.31 L207.57,299.32 L207.86,299.33 L208.16,299.35 L208.45,299.36 L208.75,299.37 L209.04,299.39 L209.33,299.40 L209.63,299.41 L209.92,299.42 L210.22,299.43 L210.51,299.45 L210.80,299.46 L211.10,299.47 L211.39,299.48 L211.69,299.49 L211.98,299.50 L212.27,299.51 L212.57,299.52 L212.86,299.53 L213.16,299.54 L213.45,299.55 L213.74,299.56 L214.04,299.57 L214.33,299.58 L214.63,299.59 L214.92,299.60 L215.21,299.60 L215.51,299.61 L215.80,299.62 L216.10,299.63 L216.39,299.64 L216.68,299.64 L216.98,299.65 L217.27,299.66 L217.57,299.66 L217.86,299.67 L218.15,299.67 L218.45,299.68 L218.74,299.69 L219.04,299.69 L219.33,299.70 L219.62,299.70 L219.92,299.71 L220.21,299.71 L220.51,299.72 L220.80,299.72 L221.09,299.73 L221.39,299.73 L221.68,299.74 L221.98,299.74 L222.27,299.75 L222.56,299.75 L222.86,299.76 L223.15,299.76 L223.45,299.76 L223.74,299.77 L224.03,299.77 L224.33,299.78 L224.62,299.78 L224.92,299.78 L225.21,299.79 L225.50,299.79 L225.80,299.79 L226.09,299.79 L226.39,299.80 L226.68,299.80 L226.97,299.80 L227.27,299.81 L227.56,299.81 L227.86,299.81 L228.15,299.81 L228.44,299.81 L228.74,299.81 L229.03,299.82 L229.33,299.82 L229.62,299.82 L229.91,299.82 L230.21,299.82 L230.50,299.82 L230.80,299.82 L231.09,299.82 L231.38,299.82 L231.68,299.82 L231.97,299.82 L232.27,299.82 L232.56,299.82 L232.85,299.82 L233.15,299.82 L233.44,299.82 L233.74,299.82 L234.03,299.82 L234.32,299.82 L234.62,299.82 L234.91,299.82 L235.21,299.82 L235.50,299.82 L235.79,299.81 L236.09,299.81 L236.38,299.81 L236.68,299.80 L236.97,299.80 L237.26,299.79 L237.56,299.79 L237.85,299.78 L238.15,299.77 L238.44,299.77 L238.73,299.76 L239.03,299.75 L239.32,299.75 L239.62,299.74 L239.91,299.73 L240.20,299.72 L240.50,299.71 L240.79,299.70 L241.09,299.69 L241.38,299.68 L241.67,299.67 L241.97,299.66 L242.26,299.65 L242.56,299.64 L242.85,299.63 L243.14,299.62 L243.44,299.61 L243.73,299.60 L244.03,299.58 L244.32,299.57 L244.61,299.56 L244.91,299.55 L245.20,299.54 L245.50,299.52 L245.79,299.51 L246.08,299.50 L246.38,299.48 L246.67,299.47 L246.97,299.46 L247.26,299.44 L247.55,299.43 L247.85,299.42 L248.14,299.40 L248.44,299.39 L248.73,299.37 L249.02,299.36 L249.32,299.35 L249.61,299.33 L249.91,299.32 L250.20,299.30 L250.49,299.29 L250.79,299.28 L251.08,299.26 L251.38,299.25 L251.67,299.23 L251.96,299.22 L252.26,299.21 L252.55,299.19 L252.85,299.18 L253.14,299.16 L253.43,299.15 L253.73,299.13 L254.02,299.11 L254.32,299.09 L254.61,299.07 L254.90,299.05 L255.20,299.03 L255.49,299.01 L255.79,298.99 L256.08,298.97 L256.37,298.95 L256.67,298.92 L256.96,298.90 L257.26,298.87 L257.55,298.85 L257.84,298.82 L258.14,298.80 L258.43,298.77 L258.73,298.74 L259.02,298.71 L259.31,298.68 L259.61,298.65 L259.90,298.62 L260.20,298.59 L260.49,298.56 L260.78,298.53 L261.08,298.50 L261.37,298.46 L261.67,298.43 L261.96,298.39 L262.25,298.36 L262.55,298.32 L262.84,298.28 L263.14,298.25 L263.43,298.21 L263.72,298.17 L264.02,298.13 L264.31,298.09 L264.61,298.05 L264.90,298.01 L265.19,297.97 L265.49,297.92 L265.78,297.88 L266.08,297.84 L266.37,297.79 L266.66,297.75 L266.96,297.70 L267.25,297.65 L267.55,297.61 L267.84,297.56 L268.13,297.51 L268.43,297.46 L268.72,297.41 L269.02,297.36 L269.31,297.31 L269.60,297.26 L269.90,297.21 L270.19,297.15 L270.48,297.09 L270.78,297.03 L271.07,296.96 L271.37,296.89 L271.66,296.81 L271.95,296.74 L272.25,296.66 L272.54,296.57 L272.84,296.48 L273.13,296.39 L273.42,296.30 L273.72,296.20 L274.01,296.10 L274.31,296.00 L274.60,295.90 L274.89,295.79 L275.19,295.68 L275.48,295.57 L275.78,295.45 L276.07,295.34 L276.36,295.22 L276.66,295.10 L276.95,294.97 L277.25,294.85 L277.54,294.73 L277.83,294.60 L278.13,294.47 L278.42,294.34 L278.72,294.21 L279.01,294.09 L279.30,293.96 L279.60,293.83 L279.89,293.70 L280.19,293.57 L280.48,293.43 L280.77,293.30 L281.07,293.16 L281.36,293.02 L281.66,292.88 L281.95,292.73 L282.24,292.58 L282.54,292.43 L282.83,292.27 L283.13,292.11 L283.42,291.95 L283.71,291.78 L284.01,291.61 L284.30,291.43 L284.60,291.25 L284.89,291.07 L285.18,290.88 L285.48,290.68 L285.77,290.48 L286.07,290.27 L286.36,290.05 L286.65,289.83 L286.95,289.61 L287.24,289.37 L287.54,289.13 L287.83,288.89 L288.12,288.64 L288.42,288.38 L288.71,288.11 L289.01,287.84 L289.30,287.57 L289.59,287.28 L289.89,286.99 L290.18,286.69 L290.48,286.39 L290.77,286.08 L291.06,285.76 L291.36,285.44 L291.65,285.11 L291.95,284.77 L292.24,284.43 L292.53,284.08 L292.83,283.73 L293.12,283.36 L293.42,282.99 L293.71,282.62 L294.00,282.23 L294.30,281.84 L294.59,281.44 L294.89,281.02 L295.18,280.60 L295.47,280.17 L295.77,279.72 L296.06,279.27 L296.36,278.80 L296.65,278.33 L296.94,277.84 L297.24,277.34 L297.53,276.84 L297.83,276.31 L298.12,275.78 L298.41,275.24 L298.71,274.68 L299.00,274.11 L299.30,273.53 L299.59,272.93 L299.88,272.32 L300.18,271.70 L300.47,271.06 L300.77,270.41 L301.06,269.75 L301.35,269.07 L301.65,268.38 L301.94,267.68 L302.24,266.95 L302.53,266.22 L302.82,265.47 L303.12,264.70 L303.41,263.89 L303.71,263.06 L304.00,262.20 L304.29,261.31 L304.59,260.39 L304.88,259.45 L305.18,258.48 L305.47,257.49 L305.76,256.47 L306.06,255.43 L306.35,254.37 L306.65,253.30 L306.94,252.21 L307.23,251.10 L307.53,249.99 L307.82,248.87 L308.12,247.74 L308.41,246.61 L308.70,245.48 L309.00,244.36 L309.29,243.24 L309.59,242.10 L309.88,240.90 L310.17,239.67 L310.47,238.40 L310.76,237.10 L311.06,235.79 L311.35,234.46 L311.64,233.14 L311.94,231.82 L312.23,230.52 L312.53,229.25 L312.82,228.02 L313.11,226.84 L313.41,225.74 L313.70,224.71 L314.00,223.77 L314.29,222.93 L314.58,222.22 L314.88,221.64 L315.17,221.13 L315.47,220.63 L315.76,220.14 L316.05,219.67 L316.35,219.22 L316.64,218.79 L316.94,218.39 L317.23,218.01 L317.52,217.66 L317.82,217.34 L318.11,217.06 L318.41,216.81 L318.70,216.61 L318.99,216.44 L319.29,216.32 L319.58,216.25 L319.88,216.24 L320.17,216.27 L320.46,216.33 L320.76,216.42 L321.05,216.52 L321.35,216.64 L321.64,216.77 L321.93,216.93 L322.23,217.09 L322.52,217.28 L322.82,217.48 L323.11,217.70 L323.40,217.93 L323.70,218.18 L323.99,218.44 L324.29,218.72 L324.58,219.01 L324.87,219.34 L325.17,219.69 L325.46,220.06 L325.76,220.45 L326.05,220.87 L326.34,221.31 L326.64,221.76 L326.93,222.23 L327.23,222.71 L327.52,223.21 L327.81,223.72 L328.11,224.23 L328.40,224.76 L328.70,225.29 L328.99,225.82 L329.28,226.36 L329.58,226.90 L329.87,227.47 L330.17,228.05 L330.46,228.66 L330.75,229.29 L331.05,229.93 L331.34,230.59 L331.64,231.25 L331.93,231.91 L332.22,232.57 L332.52,233.23 L332.81,233.89 L333.11,234.54 L333.40,235.17 L333.69,235.79 L333.99,236.40 L334.28,236.98 L334.58,237.55 L334.87,238.10 L335.16,238.64 L335.46,239.19 L335.75,239.72 L336.05,240.26 L336.34,240.78 L336.63,241.31 L336.93,241.82 L337.22,242.33 L337.52,242.84 L337.81,243.33 L338.10,243.82 L338.40,244.30 L338.69,244.78 L338.99,245.24 L339.28,245.70 L339.57,246.15 L339.87,246.58 L340.16,247.01 L340.46,247.43 L340.75,247.84 L341.04,248.24 L341.34,248.62 L341.63,249.00 L341.93,249.38 L342.22,249.75 L342.51,250.11 L342.81,250.48 L343.10,250.83 L343.40,251.19 L343.69,251.53 L343.98,251.88 L344.28,252.22 L344.57,252.55 L344.87,252.89 L345.16,253.21 L345.45,253.54 L345.75,253.86 L346.04,254.18 L346.34,254.49 L346.63,254.81 L346.92,255.11 L347.22,255.42 L347.51,255.72 L347.81,256.02 L348.10,256.32 L348.39,256.61 L348.69,256.90 L348.98,257.19 L349.28,257.48 L349.57,257.76 L349.86,258.04 L350.16,258.32 L350.45,258.60 L350.75,258.87 L351.04,259.15 L351.33,259.42 L351.63,259.69 L351.92,259.95 L352.22,260.22 L352.51,260.48 L352.80,260.74 L353.10,261.00 L353.39,261.26 L353.69,261.51 L353.98,261.77 L354.27,262.02 L354.57,262.27 L354.86,262.53 L355.16,262.77 L355.45,263.02 L355.74,263.27 L356.04,263.52 L356.33,263.76 L356.63,264.00 L356.92,264.25 L357.21,264.49 L357.51,264.73 L357.80,264.97 L358.10,265.21 L358.39,265.44 L358.68,265.68 L358.98,265.92 L359.27,266.15 L359.57,266.39 L359.86,266.62 L360.15,266.85 L360.45,267.09 L360.74,267.32 L361.04,267.55 L361.33,267.77 L361.62,268.00 L361.92,268.23 L362.21,268.45 L362.51,268.68 L362.80,268.90 L363.09,269.12 L363.39,269.34 L363.68,269.56 L363.98,269.77 L364.27,269.99 L364.56,270.20 L364.86,270.41 L365.15,270.62 L365.45,270.83 L365.74,271.04 L366.03,271.25 L366.33,271.45 L366.62,271.65 L366.92,271.86 L367.21,272.05 L367.50,272.25 L367.80,272.45 L368.09,272.64 L368.39,272.84 L368.68,273.03 L368.97,273.22 L369.27,273.40 L369.56,273.59 L369.86,273.77 L370.15,273.95 L370.44,274.13 L370.74,274.31 L371.03,274.49 L371.33,274.66 L371.62,274.84 L371.91,275.01 L372.21,275.18 L372.50,275.34 L372.80,275.51 L373.09,275.67 L373.38,275.83 L373.68,275.99 L373.97,276.15 L374.27,276.30 L374.56,276.46 L374.85,276.61 L375.15,276.76 L375.44,276.91 L375.74,277.05 L376.03,277.20 L376.32,277.34 L376.62,277.48 L376.91,277.62 L377.21,277.76 L377.50,277.90 L377.79,278.04 L378.09,278.18 L378.38,278.31 L378.68,278.45 L378.97,278.58 L379.26,278.71 L379.56,278.84 L379.85,278.97 L380.15,279.10 L380.44,279.23 L380.73,279.35 L381.03,279.48 L381.32,279.60 L381.62,279.73 L381.91,279.85 L382.20,279.97 L382.50,280.09 L382.79,280.21 L383.09,280.33 L383.38,280.45 L383.67,280.56 L383.97,280.68 L384.26,280.79 L384.56,280.90 L384.85,281.01 L385.14,281.13 L385.44,281.23 L385.73,281.34 L386.03,281.45 L386.32,281.56 L386.61,281.66 L386.91,281.77 L387.20,281.87 L387.49,281.97 L387.79,282.07 L388.08,282.17 L388.38,282.27 L388.67,282.37 L388.96,282.47 L389.26,282.57 L389.55,282.66 L389.85,282.75 L390.14,282.85 L390.43,282.94 L390.73,283.03 L391.02,283.12 L391.32,283.21 L391.61,283.30 L391.90,283.39 L392.20,283.47 L392.49,283.56 L392.79,283.64 L393.08,283.73 L393.37,283.81 L393.67,283.89 L393.96,283.97 L394.26,284.05 L394.55,284.13 L394.84,284.20 L395.14,284.28 L395.43,284.36 L395.73,284.43 L396.02,284.50 L396.31,284.58 L396.61,284.65 L396.90,284.72 L397.20,284.79 L397.49,284.86 L397.78,284.93 L398.08,285.00 L398.37,285.06 L398.67,285.13 L398.96,285.20 L399.25,285.26 L399.55,285.33 L399.84,285.39 L400.14,285.46 L400.43,285.52 L400.72,285.59 L401.02,285.65 L401.31,285.71 L401.61,285.78 L401.90,285.84 L402.19,285.90 L402.49,285.96 L402.78,286.03 L403.08,286.09 L403.37,286.15 L403.66,286.21 L403.96,286.27 L404.25,286.33 L404.55,286.39 L404.84,286.46 L405.13,286.52 L405.43,286.58 L405.72,286.64 L406.02,286.70 L406.31,286.76 L406.60,286.82 L406.90,286.88 L407.19,286.95 L407.49,287.01 L407.78,287.07 L408.07,287.13 L408.37,287.19 L408.66,287.26 L408.96,287.32 L409.25,287.38 L409.54,287.44 L409.84,287.51 L410.13,287.57 L410.43,287.64 L410.72,287.70 L411.01,287.77 L411.31,287.83 L411.60,287.90 L411.90,287.96 L412.19,288.03 L412.48,288.09 L412.78,288.16 L413.07,288.22 L413.37,288.29 L413.66,288.35 L413.95,288.42 L414.25,288.48 L414.54,288.55 L414.84,288.61 L415.13,288.68 L415.42,288.74 L415.72,288.80 L416.01,288.87 L416.31,288.93 L416.60,289.00 L416.89,289.06 L417.19,289.13 L417.48,289.19 L417.78,289.25 L418.07,289.32 L418.36,289.38 L418.66,289.44 L418.95,289.51 L419.25,289.57 L419.54,289.63 L419.83,289.70 L420.13,289.76 L420.42,289.82 L420.72,289.88 L421.01,289.94 L421.30,290.00 L421.60,290.07 L421.89,290.13 L422.19,290.19 L422.48,290.25 L422.77,290.31 L423.07,290.37 L423.36,290.43 L423.66,290.49 L423.95,290.55 L424.24,290.60 L424.54,290.66 L424.83,290.72 L425.13,290.78 L425.42,290.84 L425.71,290.89 L426.01,290.95 L426.30,291.01 L426.60,291.06 L426.89,291.12 L427.18,291.17 L427.48,291.23 L427.77,291.28 L428.07,291.34 L428.36,291.39 L428.65,291.44 L428.95,291.50 L429.24,291.55 L429.54,291.60 L429.83,291.66 L430.12,291.71 L430.42,291.76 L430.71,291.81 L431.01,291.86 L431.30,291.92 L431.59,291.97 L431.89,292.02 L432.18,292.07 L432.48,292.12 L432.77,292.17 L433.06,292.22 L433.36,292.27 L433.65,292.32 L433.95,292.37 L434.24,292.42 L434.53,292.47 L434.83,292.52 L435.12,292.57 L435.42,292.61 L435.71,292.66 L436.00,292.71 L436.30,292.76 L436.59,292.81 L436.89,292.85 L437.18,292.90 L437.47,292.95 L437.77,292.99 L438.06,293.04 L438.36,293.09 L438.65,293.13 L438.94,293.18 L439.24,293.23 L439.53,293.27 L439.83,293.32 L440.12,293.36 L440.41,293.41 L440.71,293.45 L441.00,293.50 L441.30,293.54 L441.59,293.59 L441.88,293.63 L442.18,293.67 L442.47,293.72 L442.77,293.76 L443.06,293.80 L443.35,293.85 L443.65,293.89 L443.94,293.93 L444.24,293.98 L444.53,294.02 L444.82,294.06 L445.12,294.10 L445.41,294.14 L445.71,294.19 L446.00,294.23" stroke="#0000ff"/>
<path d="M93.50,38.19 L93.79,38.22 L94.09,38.36 L94.38,38.60 L94.68,38.93 L94.97,39.32 L95.26,39.75 L95.56,40.22 L95.85,40.72 L96.15,41.39 L96.44,42.23 L96.73,43.22 L97.03,44.31 L97.32,45.48 L97.62,46.70 L97.91,47.93 L98.20,49.26 L98.50,50.78 L98.79,52.47 L99.09,54.29 L99.38,56.22 L99.67,58.22 L99.97,60.27 L100.26,62.36 L100.56,64.60 L100.85,66.99 L101.14,69.52 L101.44,72.13 L101.73,74.81 L102.03,77.52 L102.32,80.25 L102.61,83.01 L102.91,85.86 L103.20,88.78 L103.50,91.75 L103.79,94.75 L104.08,97.76 L104.38,100.76 L104.67,103.75 L104.97,106.75 L105.26,109.77 L105.55,112.80 L105.85,115.83 L106.14,118.84 L106.44,121.83 L106.73,124.78 L107.02,127.69 L107.32,130.59 L107.61,133.48 L107.91,136.33 L108.20,139.16 L108.49,141.96 L108.79,144.72 L109.08,147.44 L109.38,150.13 L109.67,152.79 L109.96,155.42 L110.26,158.01 L110.55,160.57 L110.85,163.09 L111.14,165.57 L111.43,168.02 L111.73,170.42 L112.02,172.80 L112.32,175.14 L112.61,177.44 L112.90,179.71 L113.20,181.93 L113.49,184.11 L113.79,186.26 L114.08,188.37 L114.37,190.45 L114.67,192.49 L114.96,194.49 L115.26,196.45 L115.55,198.38 L115.84,200.26 L116.14,202.11 L116.43,203.93 L116.73,205.72 L117.02,207.46 L117.31,209.18 L117.61,210.85 L117.90,212.49 L118.20,214.09 L118.49,215.66 L118.78,217.20 L119.08,218.71 L119.37,220.19 L119.67,221.63 L119.96,223.03 L120.25,224.41 L120.55,225.75 L120.84,227.07 L121.14,228.36 L121.43,229.62 L121.72,230.85 L122.02,232.05 L122.31,233.23 L122.61,234.38 L122.90,235.50 L123.19,236.61 L123.49,237.68 L123.78,238.74 L124.08,239.77 L124.37,240.78 L124.66,241.77 L124.96,242.74 L125.25,243.69 L125.55,244.61 L125.84,245.52 L126.13,246.41 L126.43,247.28 L126.72,248.14 L127.02,248.98 L127.31,249.80 L127.60,250.61 L127.90,251.41 L128.19,252.18 L128.49,252.93 L128.78,253.66 L129.07,254.36 L129.37,255.05 L129.66,255.74 L129.96,256.41 L130.25,257.07 L130.54,257.72 L130.84,258.35 L131.13,258.98 L131.43,259.60 L131.72,260.21 L132.01,260.81 L132.31,261.40 L132.60,261.98 L132.90,262.55 L133.19,263.11 L133.48,263.66 L133.78,264.20 L134.07,264.73 L134.37,265.25 L134.66,265.76 L134.95,266.26 L135.25,266.75 L135.54,267.24 L135.84,267.71 L136.13,268.17 L136.42,268.63 L136.72,269.08 L137.01,269.52 L137.31,269.95 L137.60,270.37 L137.89,270.78 L138.19,271.19 L138.48,271.59 L138.78,271.99 L139.07,272.38 L139.36,272.76 L139.66,273.14 L139.95,273.51 L140.25,273.88 L140.54,274.24 L140.83,274.59 L141.13,274.94 L141.42,275.29 L141.72,275.62 L142.01,275.95 L142.30,276.28 L142.60,276.60 L142.89,276.91 L143.19,277.22 L143.48,277.52 L143.77,277.82 L144.07,278.11 L144.36,278.40 L144.66,278.68 L144.95,278.95 L145.24,279.22 L145.54,279.48 L145.83,279.74 L146.13,279.99 L146.42,280.24 L146.71,280.48 L147.01,280.72 L147.30,280.96 L147.60,281.19 L147.89,281.43 L148.18,281.66 L148.48,281.88 L148.77,282.11 L149.07,282.33 L149.36,282.55 L149.65,282.77 L149.95,282.99 L150.24,283.20 L150.54,283.41 L150.83,283.62 L151.12,283.82 L151.42,284.02 L151.71,284.23 L152.01,284.42 L152.30,284.62 L152.59,284.81 L152.89,285.00 L153.18,285.19 L153.47,285.38 L153.77,285.56 L154.06,285.74 L154.36,285.92 L154.65,286.10 L154.94,286.27 L155.24,286.44 L155.53,286.61 L155.83,286.78 L156.12,286.95 L156.41,287.11 L156.71,287.27 L157.00,287.43 L157.30,287.58 L157.59,287.74 L157.88,287.89 L158.18,288.04 L158.47,288.18 L158.77,288.33 L159.06,288.47 L159.35,288.61 L159.65,288.75 L159.94,288.89 L160.24,289.02 L160.53,289.15 L160.82,289.28 L161.12,289.41 L161.41,289.54 L161.71,289.66 L162.00,289.78 L162.29,289.90 L162.59,290.02 L162.88,290.14 L163.18,290.25 L163.47,290.36 L163.76,290.47 L164.06,290.58 L164.35,290.69 L164.65,290.79 L164.94,290.90 L165.23,291.00 L165.53,291.10 L165.82,291.20 L166.12,291.31 L166.41,291.41 L166.70,291.50 L167.00,291.60 L167.29,291.70 L167.59,291.79 L167.88,291.89 L168.17,291.98 L168.47,292.07 L168.76,292.17 L169.06,292.26 L169.35,292.35 L169.64,292.44 L169.94,292.52 L170.23,292.61 L170.53,292.70 L170.82,292.78 L171.11,292.86 L171.41,292.95 L171.70,293.03 L172.00,293.11 L172.29,293.19 L172.58,293.27 L172.88,293.35 L173.17,293.42 L173.47,293.50 L173.76,293.58 L174.05,293.65 L174.35,293.72 L174.64,293.80 L174.94,293.87 L175.23,293.94 L175.52,294.01 L175.82,294.08 L176.11,294.14 L176.41,294.21 L176.70,294.28 L176.99,294.34 L177.29,294.40 L177.58,294.47 L177.88,294.53 L178.17,294.59 L178.46,294.65 L178.76,294.71 L179.05,294.77 L179.35,294.83 L179.64,294.88 L179.93,294.94 L180.23,294.99 L180.52,295.05 L180.82,295.10 L181.11,295.15 L181.40,295.21 L181.70,295.26 L181.99,295.31 L182.29,295.36 L182.58,295.41 L182.87,295.45 L183.17,295.50 L183.46,295.55 L183.76,295.60 L184.05,295.65 L184.34,295.69 L184.64,295.74 L184.93,295.79 L185.23,295.83 L185.52,295.88 L185.81,295.93 L186.11,295.97 L186.40,296.02 L186.70,296.06 L186.99,296.10 L187.28,296.15 L187.58,296.19 L187.87,296.23 L188.17,296.28 L188.46,296.32 L188.75,296.36 L189.05,296.40 L189.34,296.44 L189.64,296.48 L189.93,296.52 L190.22,296.56 L190.52,296.60 L190.81,296.64 L191.11,296.68 L191.40,296.71 L191.69,296.75 L191.99,296.79 L192.28,296.83 L192.58,296.86 L192.87,296.90 L193.16,296.93 L193.46,296.97 L193.75,297.00 L194.05,297.04 L194.34,297.07 L194.63,297.10 L194.93,297.13 L195.22,297.17 L195.52,297.20 L195.81,297.23 L196.10,297.26 L196.40,297.29 L196.69,297.32 L196.99,297.35 L197.28,297.38 L197.57,297.41 L197.87,297.43 L198.16,297.46 L198.46,297.49 L198.75,297.52 L199.04,297.54 L199.34,297.57 L199.63,297.59 L199.93,297.62 L200.22,297.64 L200.51,297.67 L200.81,297.69 L201.10,297.72 L201.40,297.74 L201.69,297.77 L201.98,297.79 L202.28,297.81 L202.57,297.84 L202.87,297.86 L203.16,297.89 L203.45,297.91 L203.75,297.93 L204.04,297.96 L204.34,297.98 L204.63,298.00 L204.92,298.03 L205.22,298.05 L205.51,298.07 L205.81,298.09 L206.10,298.11 L206.39,298.14 L206.69,298.16 L206.98,298.18 L207.28,298.20 L207.57,298.22 L207.86,298.24 L208.16,298.26 L208.45,298.28 L208.75,298.30 L209.04,298.32 L209.33,298.34 L209.63,298.36 L209.92,298.38 L210.22,298.40 L210.51,298.42 L210.80,298.44 L211.10,298.46 L211.39,298.48 L211.69,298.49 L211.98,298.51 L212.27,298.53 L212.57,298.55 L212.86,298.56 L213.16,298.58 L213.45,298.60 L213.74,298.61 L214.04,298.63 L214.33,298.64 L214.63,298.66 L214.92,298.67 L215.21,298.69 L215.51,298.70 L215.80,298.72 L216.10,298.73 L216.39,298.75 L216.68,298.76 L216.98,298.77 L217.27,298.79 L217.57,298.80 L217.86,298.81 L218.15,298.82 L218.45,298.84 L218.74,298.85 L219.04,298.86 L219.33,298.88 L219.62,298.89 L219.92,298.90 L220.21,298.91 L220.51,298.92 L220.80,298.94 L221.09,298.95 L221.39,298.96 L221.68,298.97 L221.98,298.98 L222.27,299.00 L222.56,299.01 L222.86,299.02 L223.15,299.03 L223.45,299.04 L223.74,299.05 L224.03,299.06 L224.33,299.08 L224.62,299.09 L224.92,299.10 L225.21,299.11 L225.50,299.12 L225.80,299.13 L226.09,299.14 L226.39,299.15 L226.68,299.16 L226.97,299.17 L227.27,299.18 L227.56,299.19 L227.86,299.20 L228.15,299.21 L228.44,299.22 L228.74,299.23 L229.03,299.24 L229.33,299.25 L229.62,299.26 L229.91,299.27 L230.21,299.28 L230.50,299.29 L230.80,299.30 L231.09,299.31 L231.38,299.32 L231.68,299.32 L231.97,299.33 L232.27,299.34 L232.56,299.35 L232.85,299.36 L233.15,299.37 L233.44,299.37 L233.74,299.38 L234.03,299.39 L234.32,299.40 L234.62,299.41 L234.91,299.41 L235.21,299.42 L235.50,299.43 L235.79,299.44 L236.09,299.45 L236.38,299.45 L236.68,299.46 L236.97,299.47 L237.26,299.47 L237.56,299.48 L237.85,299.49 L238.15,299.50 L238.44,299.50 L238.73,299.51 L239.03,299.52 L239.32,299.52 L239.62,299.53 L239.91,299.54 L240.20,299.54 L240.50,299.55 L240.79,299.56 L241.09,299.56 L241.38,299.57 L241.67,299.57 L241.97,299.58 L242.26,299.59 L242.56,299.59 L242.85,299.60 L243.14,299.60 L243.44,299.61 L243.73,299.61 L244.03,299.62 L244.32,299.62 L244.61,299.63 L244.91,299.63 L245.20,299.64 L245.50,299.64 L245.79,299.65 L246.08,299.65 L246.38,299.66 L246.67,299.66 L246.97,299.67 L247.26,299.67 L247.55,299.67 L247.85,299.68 L248.14,299.68 L248.44,299.68 L248.73,299.69 L249.02,299.69 L249.32,299.69 L249.61,299.70 L249.91,299.70 L250.20,299.70 L250.49,299.70 L250.79,299.71 L251.08,299.71 L251.38,299.71 L251.67,299.71 L251.96,299.71 L252.26,299.71 L252.55,299.71 L252.85,299.71 L253.14,299.71 L253.43,299.71 L253.73,299.71 L254.02,299.71 L254.32,299.70 L254.61,299.70 L254.90,299.69 L255.20,299.69 L255.49,299.68 L255.79,299.68 L256.08,299.67 L256.37,299.66 L256.67,299.65 L256.96,299.64 L257.26,299.63 L257.55,299.62 L257.84,299.61 L258.14,299.60 L258.43,299.59 L258.73,299.58 L259.02,299.56 L259.31,299.55 L259.61,299.54 L259.90,299.52 L260.20,299.51 L260.49,299.49 L260.78,299.48 L261.08,299.46 L261.37,299.45 L261.67,299.43 L261.96,299.41 L262.25,299.40 L262.55,299.38 L262.84,299.36 L263.14,299.34 L263.43,299.33 L263.72,299.31 L264.02,299.29 L264.31,299.27 L264.61,299.25 L264.90,299.23 L265.19,299.21 L265.49,299.19 L265.78,299.17 L266.08,299.15 L266.37,299.13 L266.66,299.11 L266.96,299.09 L267.25,299.07 L267.55,299.05 L267.84,299.03 L268.13,299.01 L268.43,298.99 L268.72,298.97 L269.02,298.96 L269.31,298.94 L269.60,298.92 L269.90,298.90 L270.19,298.87 L270.48,298.85 L270.78,298.83 L271.07,298.80 L271.37,298.77 L271.66,298.75 L271.95,298.71 L272.25,298.68 L272.54,298.65 L272.84,298.62 L273.13,298.58 L273.42,298.54 L273.72,298.50 L274.01,298.46 L274.31,298.42 L274.60,298.38 L274.89,298.34 L275.19,298.29 L275.48,298.25 L275.78,298.20 L276.07,298.15 L276.36,298.10 L276.66,298.05 L276.95,298.00 L277.25,297.95 L277.54,297.89 L277.83,297.84 L278.13,297.78 L278.42,297.73 L278.72,297.67 L279.01,297.61 L279.30,297.55 L279.60,297.50 L279.89,297.44 L280.19,297.38 L280.48,297.31 L280.77,297.25 L281.07,297.18 L281.36,297.11 L281.66,297.03 L281.95,296.96 L282.24,296.88 L282.54,296.79 L282.83,296.70 L283.13,296.61 L283.42,296.52 L283.71,296.43 L284.01,296.33 L284.30,296.23 L284.60,296.12 L284.89,296.02 L285.18,295.91 L285.48,295.80 L285.77,295.69 L286.07,295.57 L286.36,295.45 L286.65,295.34 L286.95,295.22 L287.24,295.09 L287.54,294.97 L287.83,294.85 L288.12,294.72 L288.42,294.59 L288.71,294.47 L289.01,294.34 L289.30,294.20 L289.59,294.07 L289.89,293.93 L290.18,293.79 L290.48,293.65 L290.77,293.51 L291.06,293.36 L291.36,293.21 L291.65,293.05 L291.95,292.90 L292.24,292.74 L292.53,292.58 L292.83,292.41 L293.12,292.25 L293.42,292.08 L293.71,291.90 L294.00,291.73 L294.30,291.55 L294.59,291.37 L294.89,291.18 L295.18,290.99 L295.47,290.80 L295.77,290.61 L296.06,290.41 L296.36,290.21 L296.65,290.01 L296.94,289.80 L297.24,289.59 L297.53,289.37 L297.83,289.16 L298.12,288.94 L298.41,288.71 L298.71,288.48 L299.00,288.25 L299.30,288.02 L299.59,287.78 L299.88,287.54 L300.18,287.29 L300.47,287.05 L300.77,286.79 L301.06,286.54 L301.35,286.27 L301.65,286.01 L301.94,285.74 L302.24,285.46 L302.53,285.18 L302.82,284.89 L303.12,284.60 L303.41,284.30 L303.71,283.99 L304.00,283.68 L304.29,283.36 L304.59,283.04 L304.88,282.71 L305.18,282.37 L305.47,282.03 L305.76,281.68 L306.06,281.32 L306.35,280.95 L306.65,280.58 L306.94,280.20 L307.23,279.81 L307.53,279.41 L307.82,279.00 L308.12,278.59 L308.41,278.16 L308.70,277.73 L309.00,277.28 L309.29,276.83 L309.59,276.36 L309.88,275.89 L310.17,275.39 L310.47,274.87 L310.76,274.34 L311.06,273.78 L311.35,273.21 L311.64,272.62 L311.94,272.01 L312.23,271.38 L312.53,270.75 L312.82,270.10 L313.11,269.43 L313.41,268.76 L313.70,268.08 L314.00,267.39 L314.29,266.69 L314.58,265.99 L314.88,265.29 L315.17,264.57 L315.47,263.81 L315.76,263.02 L316.05,262.21 L316.35,261.38 L316.64,260.54 L316.94,259.70 L317.23,258.86 L317.52,258.03 L317.82,257.23 L318.11,256.46 L318.41,255.73 L318.70,255.06 L318.99,254.46 L319.29,253.91 L319.58,253.37 L319.88,252.85 L320.17,252.34 L320.46,251.83 L320.76,251.35 L321.05,250.88 L321.35,250.42 L321.64,249.99 L321.93,249.57 L322.23,249.18 L322.52,248.82 L322.82,248.48 L323.11,248.16 L323.40,247.88 L323.70,247.63 L323.99,247.41 L324.29,247.22 L324.58,247.06 L324.87,246.90 L325.17,246.74 L325.46,246.58 L325.76,246.41 L326.05,246.25 L326.34,246.09 L326.64,245.93 L326.93,245.78 L327.23,245.64 L327.52,245.51 L327.81,245.39 L328.11,245.28 L328.40,245.19 L328.70,245.11 L328.99,245.05 L329.28,245.01 L329.58,245.00 L329.87,245.00 L330.17,245.03 L330.46,245.07 L330.75,245.12 L331.05,245.18 L331.34,245.25 L331.64,245.32 L331.93,245.41 L332.22,245.50 L332.52,245.60 L332.81,245.71 L333.11,245.82 L333.40,245.93 L333.69,246.05 L333.99,246.17 L334.28,246.30 L334.58,246.43 L334.87,246.56 L335.16,246.69 L335.46,246.83 L335.75,246.98 L336.05,247.13 L336.34,247.30 L336.63,247.46 L336.93,247.64 L337.22,247.82 L337.52,248.01 L337.81,248.20 L338.10,248.40 L338.40,248.60 L338.69,248.81 L338.99,249.02 L339.28,249.23 L339.57,249.45 L339.87,249.68 L340.16,249.91 L340.46,250.14 L340.75,250.38 L341.04,250.61 L341.34,250.86 L341.63,251.10 L341.93,251.35 L342.22,251.60 L342.51,251.85 L342.81,252.12 L343.10,252.39 L343.40,252.66 L343.69,252.94 L343.98,253.23 L344.28,253.52 L344.57,253.81 L344.87,254.11 L345.16,254.41 L345.45,254.71 L345.75,255.02 L346.04,255.33 L346.34,255.64 L346.63,255.95 L346.92,256.26 L347.22,256.58 L347.51,256.89 L347.81,257.21 L348.10,257.52 L348.39,257.84 L348.69,258.15 L348.98,258.47 L349.28,258.78 L349.57,259.09 L349.86,259.40 L350.16,259.71 L350.45,260.01 L350.75,260.32 L351.04,260.62 L351.33,260.91 L351.63,261.21 L351.92,261.50 L352.22,261.78 L352.51,262.07 L352.80,262.35 L353.10,262.62 L353.39,262.90 L353.69,263.18 L353.98,263.47 L354.27,263.75 L354.57,264.04 L354.86,264.32 L355.16,264.60 L355.45,264.88 L355.74,265.16 L356.04,265.43 L356.33,265.70 L356.63,265.96 L356.92,266.22 L357.21,266.47 L357.51,266.72 L357.80,266.95 L358.10,267.18 L358.39,267.41 L358.68,267.64 L358.98,267.86 L359.27,268.07 L359.57,268.29 L359.86,268.50 L360.15,268.71 L360.45,268.92 L360.74,269.12 L361.04,269.33 L361.33,269.53 L361.62,269.72 L361.92,269.92 L362.21,270.11 L362.51,270.31 L362.80,270.50 L363.09,270.69 L363.39,270.87 L363.68,271.06 L363.98,271.24 L364.27,271.43 L364.56,271.61 L364.86,271.79 L365.15,271.97 L365.45,272.15 L365.74,272.32 L366.03,272.50 L366.33,272.68 L366.62,272.85 L366.92,273.03 L367.21,273.20 L367.50,273.37 L367.80,273.54 L368.09,273.72 L368.39,273.89 L368.68,274.06 L368.97,274.23 L369.27,274.40 L369.56,274.57 L369.86,274.74 L370.15,274.91 L370.44,275.08 L370.74,275.26 L371.03,275.43 L371.33,275.60 L371.62,275.78 L371.91,275.95 L372.21,276.12 L372.50,276.29 L372.80,276.46 L373.09,276.63 L373.38,276.80 L373.68,276.96 L373.97,277.12 L374.27,277.28 L374.56,277.43 L374.85,277.58 L375.15,277.73 L375.44,277.87 L375.74,278.01 L376.03,278.15 L376.32,278.28 L376.62,278.42 L376.91,278.55 L377.21,278.68 L377.50,278.82 L377.79,278.95 L378.09,279.08 L378.38,279.21 L378.68,279.33 L378.97,279.46 L379.26,279.59 L379.56,279.71 L379.85,279.84 L380.15,279.96 L380.44,280.08 L380.73,280.20 L381.03,280.32 L381.32,280.44 L381.62,280.56 L381.91,280.67 L382.20,280.79 L382.50,280.90 L382.79,281.02 L383.09,281.13 L383.38,281.24 L383.67,281.35 L383.97,281.46 L384.26,281.57 L384.56,281.68 L384.85,281.79 L385.14,281.89 L385.44,282.00 L385.73,282.10 L386.03,282.21 L386.32,282.31 L386.61,282.41 L386.91,282.51 L387.20,282.61 L387.49,282.71 L387.79,282.81 L388.08,282.90 L388.38,283.00 L388.67,283.09 L388.96,283.19 L389.26,283.28 L389.55,283.37 L389.85,283.46 L390.14,283.55 L390.43,283.64 L390.73,283.73 L391.02,283.82 L391.32,283.91 L391.61,283.99 L391.90,284.08 L392.20,284.16 L392.49,284.24 L392.79,284.33 L393.08,284.41 L393.37,284.49 L393.67,284.57 L393.96,284.65 L394.26,284.72 L394.55,284.80 L394.84,284.88 L395.14,284.95 L395.43,285.03 L395.73,285.10 L396.02,285.17 L396.31,285.25 L396.61,285.32 L396.90,285.39 L397.20,285.46 L397.49,285.53 L397.78,285.60 L398.08,285.67 L398.37,285.74 L398.67,285.80 L398.96,285.87 L399.25,285.94 L399.55,286.01 L399.84,286.07 L400.14,286.14 L400.43,286.20 L400.72,286.27 L401.02,286.33 L401.31,286.39 L401.61,286.46 L401.90,286.52 L402.19,286.58 L402.49,286.65 L402.78,286.71 L403.08,286.77 L403.37,286.83 L403.66,286.90 L403.96,286.96 L404.25,287.02 L404.55,287.08 L404.84,287.14 L405.13,287.20 L405.43,287.26 L405.72,287.32 L406.02,287.38 L406.31,287.45 L406.60,287.51 L406.90,287.57 L407.19,287.63 L407.49,287.69 L407.78,287.75 L408.07,287.81 L408.37,287.87 L408.66,287.93 L408.96,287.99 L409.25,288.05 L409.54,288.11 L409.84,288.17 L410.13,288.23 L410.43,288.29 L410.72,288.35 L411.01,288.41 L411.31,288.48 L411.60,288.54 L411.90,288.60 L412.19,288.66 L412.48,288.72 L412.78,288.78 L413.07,288.84 L413.37,288.90 L413.66,288.96 L413.95,289.02 L414.25,289.08 L414.54,289.14 L414.84,289.20 L415.13,289.26 L415.42,289.32 L415.72,289.38 L416.01,289.44 L416.31,289.50 L416.60,289.55 L416.89,289.61 L417.19,289.67 L417.48,289.73 L417.78,289.79 L418.07,289.85 L418.36,289.90 L418.66,289.96 L418.95,290.02 L419.25,290.08 L419.54,290.13 L419.83,290.19 L420.13,290.25 L420.42,290.30 L420.72,290.36 L421.01,290.41 L421.30,290.47 L421.60,290.53 L421.89,290.58 L422.19,290.64 L422.48,290.69 L422.77,290.74 L423.07,290.80 L423.36,290.85 L423.66,290.91 L423.95,290.96 L424.24,291.01 L424.54,291.07 L424.83,291.12 L425.13,291.17 L425.42,291.22 L425.71,291.28 L426.01,291.33 L426.30,291.38 L426.60,291.43 L426.89,291.48 L427.18,291.53 L427.48,291.58 L427.77,291.63 L428.07,291.68 L428.36,291.73 L428.65,291.78 L428.95,291.83 L429.24,291.88 L429.54,291.93 L429.83,291.97 L430.12,292.02 L430.42,292.07 L430.71,292.12 L431.01,292.17 L431.30,292.21 L431.59,292.26 L431.89,292.31 L432.18,292.35 L432.48,292.40 L432.77,292.45 L433.06,292.49 L433.36,292.54 L433.65,292.58 L433.95,292.63 L434.24,292.68 L434.53,292.72 L434.83,292.77 L435.12,292.81 L435.42,292.86 L435.71,292.90 L436.00,292.94 L436.30,292.99 L436.59,293.03 L436.89,293.08 L437.18,293.12 L437.47,293.16 L437.77,293.21 L438.06,293.25 L438.36,293.29 L438.65,293.33 L438.94,293.38 L439.24,293.42 L439.53,293.46 L439.83,293.50 L440.12,293.54 L440.41,293.59 L440.71,293.63 L441.00,293.67 L441.30,293.71 L441.59,293.75 L441.88,293.79 L442.18,293.83 L442.47,293.87 L442.77,293.91 L443.06,293.95 L443.35,293.99 L443.65,294.03 L443.94,294.07 L444.24,294.11 L444.53,294.15 L444.82,294.19 L445.12,294.23 L445.41,294.26 L445.71,294.30 L446.00,294.34" stroke="#008000"/>
</g>
<text x="56.90" y="311.50" font-family="Liberation Sans, sans-serif" font-size="23.0" stroke="#000" stroke-width="0.55" textLength="28.00" lengthAdjust="spacingAndGlyphs" >0.0</text>
<text x="56.90" y="254.80" font-family="Liberation Sans, sans-serif" font-size="23.0" stroke="#000" stroke-width="0.55" textLength="28.00" lengthAdjust="spacingAndGlyphs" >0.2</text>
<text x="56.90" y="198.10" font-family="Liberation Sans, sans-serif" font-size="23.0" stroke="#000" stroke-width="0.55" textLength="28.00" lengthAdjust="spacingAndGlyphs" >0.4</text>
<text x="56.90" y="141.40" font-family="Liberation Sans, sans-serif" font-size="23.0" stroke="#000" stroke-width="0.55" textLength="28.00" lengthAdjust="spacingAndGlyphs" >0.6</text>
<text x="56.90" y="84.70" font-family="Liberation Sans, sans-serif" font-size="23.0" stroke="#000" stroke-width="0.55" textLength="28.00" lengthAdjust="spacingAndGlyphs" >0.8</text>
<path d="M763,0 H583 V1147 Q518,1085 412,1023 T223,930 V1104 Q374,1175 487,1276 T647,1472 H763 Z" transform="translate(56.90,28.00) scale(0.00984,-0.01123)" fill="#000" stroke="#000" stroke-width="49"/><text x="68.10" y="28.00" font-family="Liberation Sans, sans-serif" font-size="23.0" stroke="#000" stroke-width="0.55" textLength="16.80" lengthAdjust="spacingAndGlyphs" >.0</text>
<text x="87.55" y="331.60" font-family="Liberation Sans, sans-serif" font-size="23.0" stroke="#000" stroke-width="0.55" textLength="11.90" lengthAdjust="spacingAndGlyphs" >0</text>
<text x="158.05" y="331.60" font-family="Liberation Sans, sans-serif" font-size="23.0" stroke="#000" stroke-width="0.55" textLength="11.90" lengthAdjust="spacingAndGlyphs" >2</text>
<text x="228.55" y="331.60" font-family="Liberation Sans, sans-serif" font-size="23.0" stroke="#000" stroke-width="0.55" textLength="11.90" lengthAdjust="spacingAndGlyphs" >4</text>
<text x="299.05" y="331.60" font-family="Liberation Sans, sans-serif" font-size="23.0" stroke="#000" stroke-width="0.55" textLength="11.90" lengthAdjust="spacingAndGlyphs" >6</text>
<text x="369.55" y="331.60" font-family="Liberation Sans, sans-serif" font-size="23.0" stroke="#000" stroke-width="0.55" textLength="11.90" lengthAdjust="spacingAndGlyphs" >8</text>
<path d="M763,0 H583 V1147 Q518,1085 412,1023 T223,930 V1104 Q374,1175 487,1276 T647,1472 H763 Z" transform="translate(434.10,331.60) scale(0.01045,-0.01123)" fill="#000" stroke="#000" stroke-width="49"/><text x="446.00" y="331.60" font-family="Liberation Sans, sans-serif" font-size="23.0" stroke="#000" stroke-width="0.55" textLength="11.90" lengthAdjust="spacingAndGlyphs" >0</text>
<rect x="309.4" y="32" width="129.2" height="85.9" fill="#fff" stroke="#808080" stroke-width="1"/>
<path d="M312.6,44.10 H349.4" stroke="#000000" stroke-width="3" stroke-linecap="round"/>
<text x="355.60" y="50.10" font-family="Liberation Sans, sans-serif" font-size="17.2" stroke="#000" stroke-width="0.35" textLength="72.60" lengthAdjust="spacingAndGlyphs" >half filling</text>
<path d="M312.6,64.73 H349.4" stroke="#ff0000" stroke-width="3" stroke-linecap="round"/>
<path d="M763,0 H583 V1147 Q518,1085 412,1023 T223,930 V1104 Q374,1175 487,1276 T647,1472 H763 Z" transform="translate(355.60,70.73) scale(0.00840,-0.00840)" fill="#000" stroke="#000" stroke-width="42"/>
<text x="371.00" y="70.73" font-family="Liberation Sans, sans-serif" font-size="17.2" stroke="#000" stroke-width="0.35" textLength="62.80" lengthAdjust="spacingAndGlyphs" >electron</text>
<path d="M312.6,85.36 H349.4" stroke="#0000ff" stroke-width="3" stroke-linecap="round"/>
<text x="355.60" y="91.36" font-family="Liberation Sans, sans-serif" font-size="17.2" stroke="#000" stroke-width="0.35" textLength="9.56" lengthAdjust="spacingAndGlyphs" >2</text>
<text x="371.00" y="91.36" font-family="Liberation Sans, sans-serif" font-size="17.2" stroke="#000" stroke-width="0.35" textLength="62.80" lengthAdjust="spacingAndGlyphs" >electron</text>
<path d="M312.6,105.99 H349.4" stroke="#008000" stroke-width="3" stroke-linecap="round"/>
<text x="355.60" y="111.99" font-family="Liberation Sans, sans-serif" font-size="17.2" stroke="#000" stroke-width="0.35" textLength="9.56" lengthAdjust="spacingAndGlyphs" >3</text>
<text x="371.00" y="111.99" font-family="Liberation Sans, sans-serif" font-size="17.2" stroke="#000" stroke-width="0.35" textLength="62.80" lengthAdjust="spacingAndGlyphs" >electron</text>
<text x="-0.60" y="17.00" font-family="Liberation Sans, sans-serif" font-size="24.5" stroke="#000" stroke-width="0.35" textLength="8.60" lengthAdjust="spacingAndGlyphs" >(</text><text x="8.90" y="17.00" font-family="Liberation Sans, sans-serif" font-size="24.5" stroke="#000" stroke-width="0.35" textLength="12.25" lengthAdjust="spacingAndGlyphs" >a</text><text x="24.10" y="17.00" font-family="Liberation Sans, sans-serif" font-size="24.5" stroke="#000" stroke-width="0.35" textLength="7.50" lengthAdjust="spacingAndGlyphs" >)</text>
<text x="-0.30" y="409.80" font-family="Liberation Sans, sans-serif" font-size="24.5" stroke="#000" stroke-width="0.35" textLength="8.98" lengthAdjust="spacingAndGlyphs" >(</text><text x="9.90" y="409.80" font-family="Liberation Sans, sans-serif" font-size="24.5" stroke="#000" stroke-width="0.35" textLength="12.98" lengthAdjust="spacingAndGlyphs" >b</text><text x="26.00" y="409.80" font-family="Liberation Sans, sans-serif" font-size="24.5" stroke="#000" stroke-width="0.35" textLength="7.43" lengthAdjust="spacingAndGlyphs" >)</text>
<g transform="translate(27.1,303) rotate(-90)" font-family="Liberation Serif, serif" font-size="25" stroke="#fff" stroke-width="0.22" paint-order="fill stroke"><text x="24.61" y="0" font-size="25" textLength="20.18" lengthAdjust="spacingAndGlyphs" >R</text><text x="44.79" y="0" font-size="25" textLength="10.82" lengthAdjust="spacingAndGlyphs" >e</text><path d="M60.6,-18.5 H56.9 V5.3 H60.6" fill="none" stroke="#000" stroke-width="1.05"/><text x="62.5" y="0" font-style="italic" font-size="26" textLength="14.3" lengthAdjust="spacingAndGlyphs">σ</text><path d="M85.20,-18.9 C76.93,-13.5 76.93,0.5 85.20,5.9 L85.80,5.7 C78.67,0.2 78.67,-13.2 85.80,-18.7 Z" fill="#000" stroke="none"/><g transform="translate(86.1,-11.6) scale(0.775,0.80)" fill="none" stroke="#000" stroke-linecap="round" stroke-linejoin="round"><path d="M4.3,0.5 C2.1,2.6 0.7,5.6 0.7,8.7 C0.7,11.7 1.9,13.4 3.8,13.4 C6.3,13.4 8.8,10.4 10.2,5.3 C9.5,8.4 9.4,13.5 12.5,13.5 C15.5,13.5 19.0,8.8 19.1,4.3 C19.15,2.6 18.7,1.2 17.7,0.7" stroke-width="1.15"/><path d="M0.9,10.6 C1.3,12.6 2.4,13.5 3.9,13.4 C5.0,13.3 6.2,12.6 7.2,11.4" stroke-width="2.1"/><path d="M10.0,10.6 C10.3,12.6 11.2,13.6 12.6,13.5 C13.8,13.4 15.0,12.6 16.0,11.4" stroke-width="2.1"/><path d="M17.6,0.9 C18.5,1.5 18.9,2.8 18.8,4.4" stroke-width="2.3"/></g><path d="M104.40,-18.9 C113.20,-13.5 113.20,0.5 104.40,5.9 L103.80,5.7 C111.47,0.2 111.47,-13.2 103.80,-18.7 Z" fill="#000" stroke="none"/><path d="M113.5,-18.5 H117.1 V5.3 H113.5" fill="none" stroke="#000" stroke-width="1.05"/><path d="M137.40,-18.9 C128.87,-13.5 128.87,0.5 137.40,5.9 L138.00,5.7 C130.60,0.2 130.60,-13.2 138.00,-18.7 Z" fill="#000" stroke="none"/><text x="138.44" y="0" font-size="25" textLength="13.52" lengthAdjust="spacingAndGlyphs" >a</text><text x="151.60" y="0" font-size="25" textLength="10.40" lengthAdjust="spacingAndGlyphs" >r</text><text x="161.74" y="0" font-size="25" textLength="13.73" lengthAdjust="spacingAndGlyphs" >b</text><text x="175.6" y="0" >.</text><text x="192.14" y="0" font-size="25" textLength="13.52" lengthAdjust="spacingAndGlyphs" >u</text><text x="205.74" y="0" font-size="25" textLength="13.52" lengthAdjust="spacingAndGlyphs" >n</text><text x="219.46" y="0" font-size="25" textLength="7.49" lengthAdjust="spacingAndGlyphs" >i</text><text x="227.64" y="0" font-size="25" textLength="8.32" lengthAdjust="spacingAndGlyphs" >t</text><text x="236.37" y="0" font-size="25" textLength="11.86" lengthAdjust="spacingAndGlyphs" >s</text><text x="248.6" y="0" >.</text><path d="M255.50,-18.9 C264.17,-13.5 264.17,0.5 255.50,5.9 L254.90,5.7 C262.43,0.2 262.43,-13.2 254.90,-18.7 Z" fill="#000" stroke="none"/></g>
<g transform="translate(28.0,694) rotate(-90)" font-family="Liberation Serif, serif" font-size="25" stroke="#fff" stroke-width="0.22" paint-order="fill stroke"><text x="24.61" y="0" font-size="25" textLength="20.18" lengthAdjust="spacingAndGlyphs" >R</text><text x="44.79" y="0" font-size="25" textLength="10.82" lengthAdjust="spacingAndGlyphs" >e</text><path d="M60.6,-18.5 H56.9 V5.3 H60.6" fill="none" stroke="#000" stroke-width="1.05"/><text x="62.5" y="0" font-style="italic" font-size="26" textLength="14.3" lengthAdjust="spacingAndGlyphs">σ</text><path d="M85.20,-18.9 C76.93,-13.5 76.93,0.5 85.20,5.9 L85.80,5.7 C78.67,0.2 78.67,-13.2 85.80,-18.7 Z" fill="#000" stroke="none"/><g transform="translate(86.1,-11.6) scale(0.775,0.80)" fill="none" stroke="#000" stroke-linecap="round" stroke-linejoin="round"><path d="M4.3,0.5 C2.1,2.6 0.7,5.6 0.7,8.7 C0.7,11.7 1.9,13.4 3.8,13.4 C6.3,13.4 8.8,10.4 10.2,5.3 C9.5,8.4 9.4,13.5 12.5,13.5 C15.5,13.5 19.0,8.8 19.1,4.3 C19.15,2.6 18.7,1.2 17.7,0.7" stroke-width="1.15"/><path d="M0.9,10.6 C1.3,12.6 2.4,13.5 3.9,13.4 C5.0,13.3 6.2,12.6 7.2,11.4" stroke-width="2.1"/><path d="M10.0,10.6 C10.3,12.6 11.2,13.6 12.6,13.5 C13.8,13.4 15.0,12.6 16.0,11.4" stroke-width="2.1"/><path d="M17.6,0.9 C18.5,1.5 18.9,2.8 18.8,4.4" stroke-width="2.3"/></g><path d="M104.40,-18.9 C113.20,-13.5 113.20,0.5 104.40,5.9 L103.80,5.7 C111.47,0.2 111.47,-13.2 103.80,-18.7 Z" fill="#000" stroke="none"/><path d="M113.5,-18.5 H117.1 V5.3 H113.5" fill="none" stroke="#000" stroke-width="1.05"/><path d="M137.40,-18.9 C128.87,-13.5 128.87,0.5 137.40,5.9 L138.00,5.7 C130.60,0.2 130.60,-13.2 138.00,-18.7 Z" fill="#000" stroke="none"/><text x="138.44" y="0" font-size="25" textLength="13.52" lengthAdjust="spacingAndGlyphs" >a</text><text x="151.60" y="0" font-size="25" textLength="10.40" lengthAdjust="spacingAndGlyphs" >r</text><text x="161.74" y="0" font-size="25" textLength="13.73" lengthAdjust="spacingAndGlyphs" >b</text><text x="175.6" y="0" >.</text><text x="192.14" y="0" font-size="25" textLength="13.52" lengthAdjust="spacingAndGlyphs" >u</text><text x="205.74" y="0" font-size="25" textLength="13.52" lengthAdjust="spacingAndGlyphs" >n</text><text x="219.46" y="0" font-size="25" textLength="7.49" lengthAdjust="spacingAndGlyphs" >i</text><text x="227.64" y="0" font-size="25" textLength="8.32" lengthAdjust="spacingAndGlyphs" >t</text><text x="236.37" y="0" font-size="25" textLength="11.86" lengthAdjust="spacingAndGlyphs" >s</text><text x="248.6" y="0" >.</text><path d="M255.50,-18.9 C264.17,-13.5 264.17,0.5 255.50,5.9 L254.90,5.7 C262.43,0.2 262.43,-13.2 254.90,-18.7 Z" fill="#000" stroke="none"/></g>
<g transform="translate(257.1,350)" fill="none" stroke="#000" stroke-linecap="round" stroke-linejoin="round"><path d="M4.3,0.5 C2.1,2.6 0.7,5.6 0.7,8.7 C0.7,11.7 1.9,13.4 3.8,13.4 C6.3,13.4 8.8,10.4 10.2,5.3 C9.5,8.4 9.4,13.5 12.5,13.5 C15.5,13.5 19.0,8.8 19.1,4.3 C19.15,2.6 18.7,1.2 17.7,0.7" stroke-width="1.15"/><path d="M0.9,10.6 C1.3,12.6 2.4,13.5 3.9,13.4 C5.0,13.3 6.2,12.6 7.2,11.4" stroke-width="2.1"/><path d="M10.0,10.6 C10.3,12.6 11.2,13.6 12.6,13.5 C13.8,13.4 15.0,12.6 16.0,11.4" stroke-width="2.1"/><path d="M17.6,0.9 C18.5,1.5 18.9,2.8 18.8,4.4" stroke-width="2.3"/></g>
<g transform="translate(260.5,732.8)" fill="none" stroke="#000" stroke-linecap="round" stroke-linejoin="round"><path d="M4.3,0.5 C2.1,2.6 0.7,5.6 0.7,8.7 C0.7,11.7 1.9,13.4 3.8,13.4 C6.3,13.4 8.8,10.4 10.2,5.3 C9.5,8.4 9.4,13.5 12.5,13.5 C15.5,13.5 19.0,8.8 19.1,4.3 C19.15,2.6 18.7,1.2 17.7,0.7" stroke-width="1.15"/><path d="M0.9,10.6 C1.3,12.6 2.4,13.5 3.9,13.4 C5.0,13.3 6.2,12.6 7.2,11.4" stroke-width="2.1"/><path d="M10.0,10.6 C10.3,12.6 11.2,13.6 12.6,13.5 C13.8,13.4 15.0,12.6 16.0,11.4" stroke-width="2.1"/><path d="M17.6,0.9 C18.5,1.5 18.9,2.8 18.8,4.4" stroke-width="2.3"/></g>
<rect x="93.5" y="402.1" width="52.88" height="283.79999999999995" fill="#fff200"/>
<path d="M164.00,685.9 v-7.0 M164.00,402.1 v7.0 M234.50,685.9 v-7.0 M234.50,402.1 v7.0 M305.00,685.9 v-7.0 M305.00,402.1 v7.0 M375.50,685.9 v-7.0 M375.50,402.1 v7.0 M128.75,685.9 v-3.8 M128.75,402.1 v3.8 M199.25,685.9 v-3.8 M199.25,402.1 v3.8 M269.75,685.9 v-3.8 M269.75,402.1 v3.8 M340.25,685.9 v-3.8 M340.25,402.1 v3.8 M410.75,685.9 v-3.8 M410.75,402.1 v3.8 M93.5,634.30 h7.0 M446.0,634.30 h-7.0 M93.5,582.70 h7.0 M446.0,582.70 h-7.0 M93.5,531.10 h7.0 M446.0,531.10 h-7.0 M93.5,479.50 h7.0 M446.0,479.50 h-7.0 M93.5,427.90 h7.0 M446.0,427.90 h-7.0 M93.5,660.10 h3.8 M446.0,660.10 h-3.8 M93.5,608.50 h3.8 M446.0,608.50 h-3.8 M93.5,556.90 h3.8 M446.0,556.90 h-3.8 M93.5,505.30 h3.8 M446.0,505.30 h-3.8 M93.5,453.70 h3.8 M446.0,453.70 h-3.8" stroke="#000" stroke-width="1.0" fill="none"/>
<rect x="93.5" y="402.1" width="352.5" height="283.79999999999995" fill="none" stroke="#000" stroke-width="1.3"/>
<g clip-path="url(#cb)">
<path d="M101.79,585.47 L107.35,586.12 M123.76,589.07 L129.68,590.52 M145.65,595.34 L152.09,597.67 M167.58,603.88 L174.45,606.93 M189.82,613.46 L196.51,616.18 M211.97,622.49 L218.65,625.21 M234.24,631.20 L240.68,633.53 M256.47,638.95 L262.74,641.00 M278.77,645.66 L284.74,647.19 M300.98,651.07 L306.82,652.36 M323.17,655.79 L328.93,656.93 M345.36,659.90 L351.03,660.82 M367.56,663.13 L373.12,663.78 M389.73,665.52 L395.25,666.03 M411.88,667.58 L417.40,668.10 M434.04,669.45 L439.53,669.84" stroke="#ff0000" stroke-width="3" stroke-linecap="round" fill="none"/>
<circle cx="93.50" cy="584.51" r="5.85" fill="#ff0000"/>
<circle cx="115.65" cy="587.09" r="5.85" fill="#ff0000"/>
<circle cx="137.80" cy="592.50" r="5.85" fill="#ff0000"/>
<circle cx="159.94" cy="600.50" r="5.85" fill="#ff0000"/>
<circle cx="182.09" cy="610.31" r="5.85" fill="#ff0000"/>
<circle cx="204.24" cy="619.34" r="5.85" fill="#ff0000"/>
<circle cx="226.39" cy="628.37" r="5.85" fill="#ff0000"/>
<circle cx="248.53" cy="636.36" r="5.85" fill="#ff0000"/>
<circle cx="270.68" cy="643.59" r="5.85" fill="#ff0000"/>
<circle cx="292.83" cy="649.26" r="5.85" fill="#ff0000"/>
<circle cx="314.98" cy="654.17" r="5.85" fill="#ff0000"/>
<circle cx="337.12" cy="658.55" r="5.85" fill="#ff0000"/>
<circle cx="359.27" cy="662.16" r="5.85" fill="#ff0000"/>
<circle cx="381.42" cy="664.74" r="5.85" fill="#ff0000"/>
<circle cx="403.57" cy="666.81" r="5.85" fill="#ff0000"/>
<circle cx="425.71" cy="668.87" r="5.85" fill="#ff0000"/>
<circle cx="447.86" cy="670.42" r="5.85" fill="#ff0000"/>
<path d="M101.78,501.98 L107.37,502.69 M123.50,506.59 L129.94,508.91 M145.08,515.83 L152.65,520.06 M166.71,529.02 L175.32,535.24 M188.78,545.12 L197.54,551.65 M210.97,561.58 L219.65,567.96 M233.34,577.51 L241.58,582.98 M255.71,591.87 L263.50,596.50 M278.04,604.70 L285.47,608.68 M300.53,615.86 L307.28,618.69 M322.80,624.83 L329.30,627.26 M345.06,632.76 L351.33,634.81 M367.36,639.47 L373.33,641.00 M389.57,644.88 L395.41,646.17 M411.76,649.60 L417.52,650.74 M433.95,653.70 L439.62,654.63" stroke="#0000ff" stroke-width="3" stroke-linecap="round" fill="none"/>
<circle cx="93.50" cy="500.91" r="5.85" fill="#0000ff"/>
<circle cx="115.65" cy="503.75" r="5.85" fill="#0000ff"/>
<circle cx="137.80" cy="511.75" r="5.85" fill="#0000ff"/>
<circle cx="159.94" cy="524.13" r="5.85" fill="#0000ff"/>
<circle cx="182.09" cy="540.13" r="5.85" fill="#0000ff"/>
<circle cx="204.24" cy="556.64" r="5.85" fill="#0000ff"/>
<circle cx="226.39" cy="572.90" r="5.85" fill="#0000ff"/>
<circle cx="248.53" cy="587.60" r="5.85" fill="#0000ff"/>
<circle cx="270.68" cy="600.76" r="5.85" fill="#0000ff"/>
<circle cx="292.83" cy="612.63" r="5.85" fill="#0000ff"/>
<circle cx="314.98" cy="621.92" r="5.85" fill="#0000ff"/>
<circle cx="337.12" cy="630.17" r="5.85" fill="#0000ff"/>
<circle cx="359.27" cy="637.40" r="5.85" fill="#0000ff"/>
<circle cx="381.42" cy="643.07" r="5.85" fill="#0000ff"/>
<circle cx="403.57" cy="647.97" r="5.85" fill="#0000ff"/>
<circle cx="425.71" cy="652.36" r="5.85" fill="#0000ff"/>
<circle cx="447.86" cy="655.97" r="5.85" fill="#0000ff"/>
<path d="M101.80,445.28 L107.34,445.86 M123.59,449.32 L129.86,451.37 M145.16,457.90 L152.58,461.88 M166.53,470.96 L175.51,477.97 M188.31,488.69 L198.02,497.40 M210.35,508.67 L220.28,517.93 M232.57,529.23 L242.35,538.13 M255.00,549.02 L264.21,556.53 M277.64,566.42 L285.87,571.89 M299.71,581.24 L308.09,587.00 M322.41,595.54 L329.69,599.27 M344.73,606.54 L351.67,609.69 M367.03,616.22 L373.66,618.84 M389.33,624.59 L395.66,626.73 M411.61,631.65 L417.67,633.34 M433.87,637.39 L439.71,638.69" stroke="#008000" stroke-width="3" stroke-linecap="round" fill="none"/>
<circle cx="93.50" cy="444.41" r="5.85" fill="#008000"/>
<circle cx="115.65" cy="446.73" r="5.85" fill="#008000"/>
<circle cx="137.80" cy="453.96" r="5.85" fill="#008000"/>
<circle cx="159.94" cy="465.83" r="5.85" fill="#008000"/>
<circle cx="182.09" cy="483.11" r="5.85" fill="#008000"/>
<circle cx="204.24" cy="502.98" r="5.85" fill="#008000"/>
<circle cx="226.39" cy="523.62" r="5.85" fill="#008000"/>
<circle cx="248.53" cy="543.74" r="5.85" fill="#008000"/>
<circle cx="270.68" cy="561.80" r="5.85" fill="#008000"/>
<circle cx="292.83" cy="576.51" r="5.85" fill="#008000"/>
<circle cx="314.98" cy="591.73" r="5.85" fill="#008000"/>
<circle cx="337.12" cy="603.08" r="5.85" fill="#008000"/>
<circle cx="359.27" cy="613.14" r="5.85" fill="#008000"/>
<circle cx="381.42" cy="621.92" r="5.85" fill="#008000"/>
<circle cx="403.57" cy="629.40" r="5.85" fill="#008000"/>
<circle cx="425.71" cy="635.59" r="5.85" fill="#008000"/>
<circle cx="447.86" cy="640.49" r="5.85" fill="#008000"/>
</g>
<text x="56.90" y="694.60" font-family="Liberation Sans, sans-serif" font-size="23.0" stroke="#000" stroke-width="0.55" textLength="28.00" lengthAdjust="spacingAndGlyphs" >0.0</text>
<text x="56.90" y="643.00" font-family="Liberation Sans, sans-serif" font-size="23.0" stroke="#000" stroke-width="0.55" textLength="28.00" lengthAdjust="spacingAndGlyphs" >0.2</text>
<text x="56.90" y="591.40" font-family="Liberation Sans, sans-serif" font-size="23.0" stroke="#000" stroke-width="0.55" textLength="28.00" lengthAdjust="spacingAndGlyphs" >0.4</text>
<text x="56.90" y="539.80" font-family="Liberation Sans, sans-serif" font-size="23.0" stroke="#000" stroke-width="0.55" textLength="28.00" lengthAdjust="spacingAndGlyphs" >0.6</text>
<text x="56.90" y="488.20" font-family="Liberation Sans, sans-serif" font-size="23.0" stroke="#000" stroke-width="0.55" textLength="28.00" lengthAdjust="spacingAndGlyphs" >0.8</text>
<path d="M763,0 H583 V1147 Q518,1085 412,1023 T223,930 V1104 Q374,1175 487,1276 T647,1472 H763 Z" transform="translate(56.90,436.60) scale(0.00984,-0.01123)" fill="#000" stroke="#000" stroke-width="49"/><text x="68.10" y="436.60" font-family="Liberation Sans, sans-serif" font-size="23.0" stroke="#000" stroke-width="0.55" textLength="16.80" lengthAdjust="spacingAndGlyphs" >.0</text>
<text x="79.05" y="714.60" font-family="Liberation Sans, sans-serif" font-size="23.0" stroke="#000" stroke-width="0.55" textLength="28.90" lengthAdjust="spacingAndGlyphs" >0.0</text>
<text x="149.55" y="714.60" font-family="Liberation Sans, sans-serif" font-size="23.0" stroke="#000" stroke-width="0.55" textLength="28.90" lengthAdjust="spacingAndGlyphs" >0.2</text>
<text x="220.05" y="714.60" font-family="Liberation Sans, sans-serif" font-size="23.0" stroke="#000" stroke-width="0.55" textLength="28.90" lengthAdjust="spacingAndGlyphs" >0.4</text>
<text x="290.55" y="714.60" font-family="Liberation Sans, sans-serif" font-size="23.0" stroke="#000" stroke-width="0.55" textLength="28.90" lengthAdjust="spacingAndGlyphs" >0.6</text>
<text x="361.05" y="714.60" font-family="Liberation Sans, sans-serif" font-size="23.0" stroke="#000" stroke-width="0.55" textLength="28.90" lengthAdjust="spacingAndGlyphs" >0.8</text>
<path d="M763,0 H583 V1147 Q518,1085 412,1023 T223,930 V1104 Q374,1175 487,1276 T647,1472 H763 Z" transform="translate(431.55,714.60) scale(0.01015,-0.01123)" fill="#000" stroke="#000" stroke-width="49"/><text x="443.11" y="714.60" font-family="Liberation Sans, sans-serif" font-size="23.0" stroke="#000" stroke-width="0.55" textLength="17.34" lengthAdjust="spacingAndGlyphs" >.0</text>
</svg>
</body></html>
